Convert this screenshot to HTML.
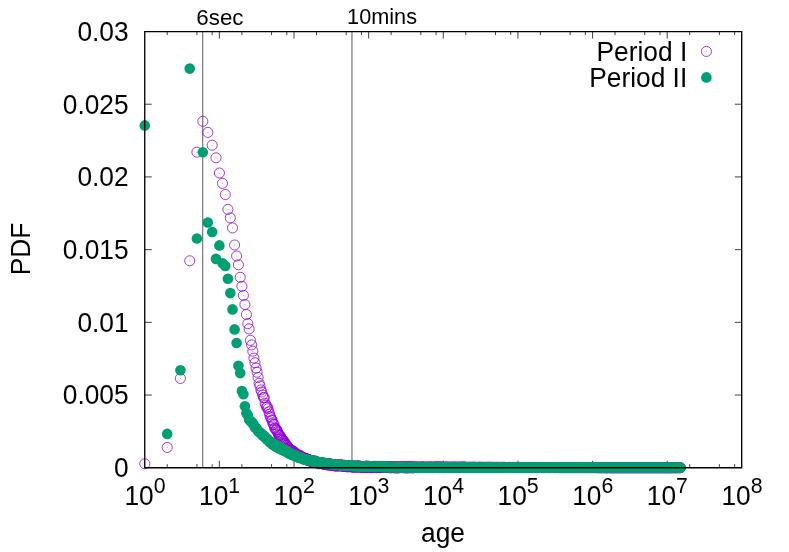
<!DOCTYPE html>
<html><head><meta charset="utf-8"><title>PDF of age</title>
<style>
html,body{margin:0;padding:0;background:#fff;}
body{width:789px;height:552px;overflow:hidden;}
svg{display:block;will-change:transform;}
text{font-family:"Liberation Sans",sans-serif;fill:#000;}
</style></head><body>
<svg width="789" height="552" viewBox="0 0 789 552">
<rect x="0" y="0" width="789" height="552" fill="#ffffff"/>
<path d="M167.22 467.75V464.15M167.22 31.50V35.10M196.92 467.75V464.15M196.92 31.50V35.10M212.15 467.75V464.15M212.15 31.50V35.10M219.39 467.75V460.75M219.39 31.50V38.50M241.86 467.75V464.15M241.86 31.50V35.10M271.56 467.75V464.15M271.56 31.50V35.10M286.79 467.75V464.15M286.79 31.50V35.10M294.02 467.75V460.75M294.02 31.50V38.50M316.49 467.75V464.15M316.49 31.50V35.10M346.19 467.75V464.15M346.19 31.50V35.10M361.43 467.75V464.15M361.43 31.50V35.10M368.66 467.75V460.75M368.66 31.50V38.50M391.13 467.75V464.15M391.13 31.50V35.10M420.83 467.75V464.15M420.83 31.50V35.10M436.07 467.75V464.15M436.07 31.50V35.10M443.30 467.75V460.75M443.30 31.50V38.50M465.77 467.75V464.15M465.77 31.50V35.10M495.47 467.75V464.15M495.47 31.50V35.10M510.70 467.75V464.15M510.70 31.50V35.10M517.94 467.75V460.75M517.94 31.50V38.50M540.41 467.75V464.15M540.41 31.50V35.10M570.11 467.75V464.15M570.11 31.50V35.10M585.34 467.75V464.15M585.34 31.50V35.10M592.58 467.75V460.75M592.58 31.50V38.50M615.04 467.75V464.15M615.04 31.50V35.10M644.74 467.75V464.15M644.74 31.50V35.10M659.98 467.75V464.15M659.98 31.50V35.10M667.21 467.75V460.75M667.21 31.50V38.50M689.68 467.75V464.15M689.68 31.50V35.10M719.38 467.75V464.15M719.38 31.50V35.10M734.62 467.75V464.15M734.62 31.50V35.10M144.75 395.04H151.75M741.85 395.04H734.85M144.75 322.33H151.75M741.85 322.33H734.85M144.75 249.62H151.75M741.85 249.62H734.85M144.75 176.92H151.75M741.85 176.92H734.85M144.75 104.21H151.75M741.85 104.21H734.85" stroke="#000" stroke-width="0.75" fill="none"/>
<line x1="202.68" y1="31.50" x2="202.68" y2="467.75" stroke="#808080" stroke-width="1.3"/>
<line x1="351.95" y1="31.50" x2="351.95" y2="467.75" stroke="#808080" stroke-width="1.3"/>
<g fill="none" stroke="#9400d3" stroke-width="0.78">
<circle cx="144.8" cy="463.8" r="5.05"/>
<circle cx="167.2" cy="447.5" r="5.05"/>
<circle cx="180.4" cy="378.4" r="5.05"/>
<circle cx="189.7" cy="260.8" r="5.05"/>
<circle cx="196.9" cy="152.2" r="5.05"/>
<circle cx="202.8" cy="121.3" r="5.05"/>
<circle cx="207.8" cy="132.4" r="5.05"/>
<circle cx="212.2" cy="145.2" r="5.05"/>
<circle cx="216.0" cy="157.8" r="5.05"/>
<circle cx="219.4" cy="173.0" r="5.05"/>
<circle cx="222.5" cy="183.3" r="5.05"/>
<circle cx="225.3" cy="194.5" r="5.05"/>
<circle cx="227.9" cy="209.4" r="5.05"/>
<circle cx="230.3" cy="217.9" r="5.05"/>
<circle cx="232.5" cy="227.9" r="5.05"/>
<circle cx="234.6" cy="245.0" r="5.05"/>
<circle cx="236.6" cy="256.0" r="5.05"/>
<circle cx="238.4" cy="264.8" r="5.05"/>
<circle cx="240.2" cy="277.3" r="5.05"/>
<circle cx="241.9" cy="286.3" r="5.05"/>
<circle cx="243.4" cy="295.4" r="5.05"/>
<circle cx="244.9" cy="304.5" r="5.05"/>
<circle cx="246.4" cy="314.5" r="5.05"/>
<circle cx="247.8" cy="323.6" r="5.05"/>
<circle cx="249.1" cy="328.9" r="5.05"/>
<circle cx="250.4" cy="340.3" r="5.05"/>
<circle cx="251.6" cy="344.9" r="5.05"/>
<circle cx="252.8" cy="351.2" r="5.05"/>
<circle cx="253.9" cy="358.1" r="5.05"/>
<circle cx="255.0" cy="362.8" r="5.05"/>
<circle cx="256.1" cy="368.0" r="5.05"/>
<circle cx="257.1" cy="372.2" r="5.05"/>
<circle cx="258.1" cy="377.5" r="5.05"/>
<circle cx="259.1" cy="383.3" r="5.05"/>
<circle cx="260.0" cy="385.9" r="5.05"/>
<circle cx="260.9" cy="389.9" r="5.05"/>
<circle cx="261.8" cy="392.0" r="5.05"/>
<circle cx="262.7" cy="395.0" r="5.05"/>
<circle cx="263.5" cy="397.4" r="5.05"/>
<circle cx="264.3" cy="397.7" r="5.05"/>
<circle cx="265.1" cy="403.2" r="5.05"/>
<circle cx="265.9" cy="405.2" r="5.05"/>
<circle cx="266.7" cy="407.4" r="5.05"/>
<circle cx="267.4" cy="406.9" r="5.05"/>
<circle cx="268.1" cy="408.8" r="5.05"/>
<circle cx="268.9" cy="411.8" r="5.05"/>
<circle cx="269.6" cy="414.1" r="5.05"/>
<circle cx="270.2" cy="416.6" r="5.05"/>
<circle cx="270.9" cy="417.8" r="5.05"/>
<circle cx="271.6" cy="420.0" r="5.05"/>
<circle cx="272.2" cy="420.4" r="5.05"/>
<circle cx="272.8" cy="422.8" r="5.05"/>
<circle cx="273.4" cy="424.3" r="5.05"/>
<circle cx="274.1" cy="424.5" r="5.05"/>
<circle cx="274.6" cy="428.1" r="5.05"/>
<circle cx="275.2" cy="428.2" r="5.05"/>
<circle cx="275.8" cy="429.9" r="5.05"/>
<circle cx="276.4" cy="429.3" r="5.05"/>
<circle cx="276.9" cy="430.3" r="5.05"/>
<circle cx="277.5" cy="431.7" r="5.05"/>
<circle cx="278.0" cy="432.9" r="5.05"/>
<circle cx="278.5" cy="434.4" r="5.05"/>
<circle cx="279.0" cy="435.0" r="5.05"/>
<circle cx="279.6" cy="435.3" r="5.05"/>
<circle cx="280.1" cy="435.7" r="5.05"/>
<circle cx="280.6" cy="436.9" r="5.05"/>
<circle cx="281.0" cy="438.9" r="5.05"/>
<circle cx="281.5" cy="438.2" r="5.05"/>
<circle cx="282.0" cy="439.6" r="5.05"/>
<circle cx="282.5" cy="440.4" r="5.05"/>
<circle cx="282.9" cy="439.8" r="5.05"/>
<circle cx="283.4" cy="441.5" r="5.05"/>
<circle cx="283.8" cy="443.0" r="5.05"/>
<circle cx="284.3" cy="441.5" r="5.05"/>
<circle cx="284.7" cy="443.2" r="5.05"/>
<circle cx="285.1" cy="443.9" r="5.05"/>
<circle cx="285.6" cy="444.0" r="5.05"/>
<circle cx="286.0" cy="445.4" r="5.05"/>
<circle cx="286.4" cy="445.6" r="5.05"/>
<circle cx="286.8" cy="445.2" r="5.05"/>
<circle cx="287.2" cy="447.1" r="5.05"/>
<circle cx="287.6" cy="447.5" r="5.05"/>
<circle cx="288.0" cy="448.1" r="5.05"/>
<circle cx="288.4" cy="448.8" r="5.05"/>
<circle cx="288.8" cy="448.6" r="5.05"/>
<circle cx="289.1" cy="448.9" r="5.05"/>
<circle cx="289.5" cy="448.5" r="5.05"/>
<circle cx="289.9" cy="449.9" r="5.05"/>
<circle cx="290.2" cy="449.6" r="5.05"/>
<circle cx="290.6" cy="450.1" r="5.05"/>
<circle cx="291.0" cy="449.9" r="5.05"/>
<circle cx="291.3" cy="450.4" r="5.05"/>
<circle cx="291.7" cy="450.8" r="5.05"/>
<circle cx="292.0" cy="452.0" r="5.05"/>
<circle cx="292.4" cy="450.6" r="5.05"/>
<circle cx="292.7" cy="451.2" r="5.05"/>
<circle cx="293.0" cy="452.2" r="5.05"/>
<circle cx="293.4" cy="453.0" r="5.05"/>
<circle cx="293.7" cy="452.8" r="5.05"/>
<circle cx="294.0" cy="451.9" r="5.05"/>
<circle cx="294.3" cy="451.8" r="5.05"/>
<circle cx="294.7" cy="453.4" r="5.05"/>
<circle cx="295.0" cy="453.1" r="5.05"/>
<circle cx="295.3" cy="453.1" r="5.05"/>
<circle cx="295.6" cy="454.2" r="5.05"/>
<circle cx="295.9" cy="454.5" r="5.05"/>
<circle cx="296.2" cy="454.2" r="5.05"/>
<circle cx="296.5" cy="454.5" r="5.05"/>
<circle cx="296.8" cy="454.7" r="5.05"/>
<circle cx="297.1" cy="455.4" r="5.05"/>
<circle cx="297.4" cy="455.1" r="5.05"/>
<circle cx="297.7" cy="455.3" r="5.05"/>
<circle cx="298.0" cy="455.4" r="5.05"/>
<circle cx="298.3" cy="454.8" r="5.05"/>
<circle cx="298.6" cy="456.0" r="5.05"/>
<circle cx="298.8" cy="456.1" r="5.05"/>
<circle cx="299.1" cy="456.0" r="5.05"/>
<circle cx="299.4" cy="455.2" r="5.05"/>
<circle cx="299.7" cy="455.9" r="5.05"/>
<circle cx="299.9" cy="456.6" r="5.05"/>
<circle cx="300.2" cy="455.7" r="5.05"/>
<circle cx="300.5" cy="456.5" r="5.05"/>
<circle cx="300.7" cy="457.0" r="5.05"/>
<circle cx="301.0" cy="456.3" r="5.05"/>
<circle cx="301.3" cy="457.5" r="5.05"/>
<circle cx="301.5" cy="457.2" r="5.05"/>
<circle cx="301.8" cy="457.1" r="5.05"/>
<circle cx="302.0" cy="457.4" r="5.05"/>
<circle cx="302.3" cy="457.6" r="5.05"/>
<circle cx="302.5" cy="457.6" r="5.05"/>
<circle cx="302.8" cy="458.0" r="5.05"/>
<circle cx="303.0" cy="457.5" r="5.05"/>
<circle cx="303.3" cy="457.7" r="5.05"/>
<circle cx="303.5" cy="458.3" r="5.05"/>
<circle cx="303.8" cy="458.1" r="5.05"/>
<circle cx="304.0" cy="457.9" r="5.05"/>
<circle cx="304.2" cy="458.6" r="5.05"/>
<circle cx="304.5" cy="458.8" r="5.05"/>
<circle cx="304.7" cy="458.3" r="5.05"/>
<circle cx="304.9" cy="458.1" r="5.05"/>
<circle cx="305.2" cy="458.6" r="5.05"/>
<circle cx="305.4" cy="458.7" r="5.05"/>
<circle cx="305.6" cy="458.8" r="5.05"/>
<circle cx="305.8" cy="459.4" r="5.05"/>
<circle cx="306.1" cy="458.7" r="5.05"/>
<circle cx="306.3" cy="459.5" r="5.05"/>
<circle cx="306.5" cy="458.8" r="5.05"/>
<circle cx="306.7" cy="459.0" r="5.05"/>
<circle cx="307.0" cy="459.6" r="5.05"/>
<circle cx="307.2" cy="459.8" r="5.3"/>
<circle cx="307.4" cy="459.8" r="5.3"/>
<circle cx="307.6" cy="459.7" r="5.3"/>
<circle cx="307.8" cy="459.7" r="5.3"/>
<circle cx="308.0" cy="459.8" r="5.3"/>
<circle cx="308.2" cy="460.0" r="5.3"/>
<circle cx="308.4" cy="459.8" r="5.3"/>
<circle cx="308.6" cy="460.1" r="5.3"/>
<circle cx="308.9" cy="460.2" r="5.3"/>
<circle cx="309.1" cy="460.1" r="5.3"/>
<circle cx="309.3" cy="460.4" r="5.3"/>
<circle cx="309.5" cy="460.4" r="5.3"/>
<circle cx="310.0" cy="461.0" r="5.3"/>
<circle cx="310.5" cy="460.7" r="5.3"/>
<circle cx="311.0" cy="460.6" r="5.3"/>
<circle cx="311.5" cy="460.8" r="5.3"/>
<circle cx="312.0" cy="461.0" r="5.3"/>
<circle cx="312.5" cy="461.5" r="5.3"/>
<circle cx="313.0" cy="461.2" r="5.3"/>
<circle cx="313.5" cy="461.6" r="5.3"/>
<circle cx="314.0" cy="462.2" r="5.3"/>
<circle cx="314.5" cy="461.0" r="5.3"/>
<circle cx="315.0" cy="461.5" r="5.3"/>
<circle cx="315.5" cy="462.1" r="5.3"/>
<circle cx="316.0" cy="462.3" r="5.3"/>
<circle cx="316.5" cy="462.3" r="5.3"/>
<circle cx="317.0" cy="462.2" r="5.3"/>
<circle cx="317.5" cy="462.7" r="5.3"/>
<circle cx="318.0" cy="462.7" r="5.3"/>
<circle cx="318.5" cy="462.6" r="5.3"/>
<circle cx="319.0" cy="463.6" r="5.3"/>
<circle cx="319.5" cy="463.0" r="5.3"/>
<circle cx="320.0" cy="462.9" r="5.3"/>
<circle cx="320.5" cy="463.1" r="5.3"/>
<circle cx="321.0" cy="463.2" r="5.3"/>
<circle cx="321.5" cy="463.3" r="5.3"/>
<circle cx="322.0" cy="462.6" r="5.3"/>
<circle cx="322.5" cy="463.4" r="5.3"/>
<circle cx="323.0" cy="463.9" r="5.3"/>
<circle cx="323.5" cy="463.4" r="5.3"/>
<circle cx="324.0" cy="463.8" r="5.3"/>
<circle cx="324.5" cy="464.2" r="5.3"/>
<circle cx="325.0" cy="464.2" r="5.3"/>
<circle cx="325.5" cy="464.5" r="5.3"/>
<circle cx="326.0" cy="463.6" r="5.3"/>
<circle cx="326.5" cy="464.1" r="5.3"/>
<circle cx="327.0" cy="464.1" r="5.3"/>
<circle cx="327.5" cy="464.5" r="5.3"/>
<circle cx="328.0" cy="464.7" r="5.3"/>
<circle cx="328.5" cy="463.6" r="5.3"/>
<circle cx="329.0" cy="464.8" r="5.3"/>
<circle cx="329.5" cy="464.1" r="5.3"/>
<circle cx="330.0" cy="464.8" r="5.3"/>
<circle cx="330.5" cy="464.2" r="5.3"/>
<circle cx="331.0" cy="464.7" r="5.3"/>
<circle cx="331.5" cy="465.1" r="5.3"/>
<circle cx="332.0" cy="464.8" r="5.3"/>
<circle cx="332.5" cy="464.9" r="5.3"/>
<circle cx="333.0" cy="465.1" r="5.3"/>
<circle cx="333.5" cy="465.0" r="5.3"/>
<circle cx="334.0" cy="465.0" r="5.3"/>
<circle cx="334.5" cy="465.5" r="5.3"/>
<circle cx="335.0" cy="465.4" r="5.3"/>
<circle cx="335.5" cy="465.1" r="5.3"/>
<circle cx="336.0" cy="466.0" r="5.3"/>
<circle cx="336.5" cy="464.9" r="5.3"/>
<circle cx="337.0" cy="465.6" r="5.3"/>
<circle cx="337.5" cy="465.2" r="5.3"/>
<circle cx="338.0" cy="465.4" r="5.3"/>
<circle cx="338.5" cy="465.6" r="5.3"/>
<circle cx="339.0" cy="465.5" r="5.3"/>
<circle cx="339.5" cy="465.7" r="5.3"/>
<circle cx="340.0" cy="465.1" r="5.3"/>
<circle cx="340.5" cy="465.1" r="5.3"/>
<circle cx="341.0" cy="465.8" r="5.3"/>
<circle cx="341.5" cy="465.4" r="5.3"/>
<circle cx="342.0" cy="465.4" r="5.3"/>
<circle cx="342.5" cy="465.3" r="5.3"/>
<circle cx="343.0" cy="466.1" r="5.3"/>
<circle cx="343.5" cy="466.0" r="5.3"/>
<circle cx="344.0" cy="466.3" r="5.3"/>
<circle cx="344.5" cy="465.6" r="5.3"/>
<circle cx="345.0" cy="465.9" r="5.3"/>
<circle cx="345.5" cy="465.6" r="5.3"/>
<circle cx="346.0" cy="466.2" r="5.3"/>
<circle cx="346.5" cy="466.5" r="5.3"/>
<circle cx="347.0" cy="465.8" r="5.3"/>
<circle cx="347.5" cy="466.5" r="5.3"/>
<circle cx="348.0" cy="466.4" r="5.3"/>
<circle cx="348.5" cy="466.1" r="5.3"/>
<circle cx="349.0" cy="465.6" r="5.3"/>
<circle cx="349.5" cy="466.6" r="5.3"/>
<circle cx="350.0" cy="466.2" r="5.3"/>
<circle cx="350.5" cy="466.1" r="5.3"/>
<circle cx="351.0" cy="466.4" r="5.3"/>
<circle cx="351.5" cy="466.4" r="5.3"/>
<circle cx="352.0" cy="466.8" r="5.3"/>
<circle cx="352.5" cy="466.1" r="5.3"/>
<circle cx="353.0" cy="466.7" r="5.3"/>
<circle cx="353.5" cy="466.9" r="5.3"/>
<circle cx="354.0" cy="466.9" r="5.3"/>
<circle cx="354.5" cy="466.4" r="5.3"/>
<circle cx="355.0" cy="466.3" r="5.3"/>
<circle cx="355.5" cy="466.8" r="5.3"/>
<circle cx="356.0" cy="466.6" r="5.3"/>
<circle cx="356.5" cy="466.6" r="5.3"/>
<circle cx="357.0" cy="467.0" r="5.3"/>
<circle cx="357.5" cy="466.5" r="5.3"/>
<circle cx="358.0" cy="466.0" r="5.3"/>
<circle cx="358.5" cy="466.5" r="5.3"/>
<circle cx="359.0" cy="466.1" r="5.3"/>
<circle cx="359.5" cy="466.9" r="5.3"/>
<circle cx="360.0" cy="466.8" r="5.3"/>
<circle cx="360.5" cy="466.6" r="5.3"/>
<circle cx="361.0" cy="466.8" r="5.3"/>
<circle cx="361.5" cy="467.0" r="5.3"/>
<circle cx="362.0" cy="466.8" r="5.3"/>
<circle cx="362.5" cy="467.2" r="5.3"/>
<circle cx="363.0" cy="466.8" r="5.3"/>
<circle cx="363.5" cy="467.2" r="5.3"/>
<circle cx="364.0" cy="467.3" r="5.3"/>
<circle cx="364.5" cy="467.4" r="5.3"/>
<circle cx="365.0" cy="466.7" r="5.3"/>
<circle cx="365.5" cy="467.2" r="5.3"/>
<circle cx="366.0" cy="466.4" r="5.3"/>
<circle cx="366.5" cy="466.6" r="5.3"/>
<circle cx="367.0" cy="466.4" r="5.3"/>
<circle cx="367.5" cy="467.3" r="5.3"/>
<circle cx="368.0" cy="466.6" r="5.3"/>
<circle cx="368.5" cy="467.0" r="5.3"/>
<circle cx="369.0" cy="467.0" r="5.3"/>
<circle cx="369.5" cy="467.0" r="5.3"/>
<circle cx="370.0" cy="466.9" r="5.3"/>
<circle cx="370.5" cy="467.1" r="5.3"/>
<circle cx="371.0" cy="467.6" r="5.3"/>
<circle cx="371.5" cy="467.1" r="5.3"/>
<circle cx="372.0" cy="467.2" r="5.3"/>
<circle cx="372.5" cy="467.3" r="5.3"/>
<circle cx="373.0" cy="467.0" r="5.3"/>
<circle cx="373.5" cy="466.7" r="5.3"/>
<circle cx="374.0" cy="466.9" r="5.3"/>
<circle cx="374.5" cy="467.4" r="5.3"/>
<circle cx="375.0" cy="466.6" r="5.3"/>
<circle cx="375.5" cy="466.9" r="5.3"/>
<circle cx="376.0" cy="467.4" r="5.3"/>
<circle cx="376.5" cy="467.3" r="5.3"/>
<circle cx="377.0" cy="467.1" r="5.3"/>
<circle cx="377.5" cy="467.3" r="5.3"/>
<circle cx="378.0" cy="467.2" r="5.3"/>
<circle cx="378.5" cy="466.8" r="5.3"/>
<circle cx="379.0" cy="466.7" r="5.3"/>
<circle cx="379.5" cy="467.0" r="5.3"/>
<circle cx="380.0" cy="467.4" r="5.3"/>
<circle cx="380.5" cy="467.0" r="5.3"/>
<circle cx="381.0" cy="466.9" r="5.3"/>
<circle cx="381.5" cy="467.0" r="5.3"/>
<circle cx="382.0" cy="466.8" r="5.3"/>
<circle cx="382.5" cy="467.1" r="5.3"/>
<circle cx="383.0" cy="466.9" r="5.3"/>
<circle cx="383.5" cy="467.2" r="5.3"/>
<circle cx="384.0" cy="466.6" r="5.3"/>
<circle cx="384.5" cy="467.2" r="5.3"/>
<circle cx="385.0" cy="467.0" r="5.3"/>
<circle cx="385.5" cy="466.7" r="5.3"/>
<circle cx="386.0" cy="467.3" r="5.3"/>
<circle cx="386.5" cy="467.1" r="5.3"/>
<circle cx="387.0" cy="466.7" r="5.3"/>
<circle cx="387.5" cy="467.0" r="5.3"/>
<circle cx="388.0" cy="467.3" r="5.3"/>
<circle cx="388.5" cy="467.1" r="5.3"/>
<circle cx="389.0" cy="467.4" r="5.3"/>
<circle cx="389.5" cy="467.4" r="5.3"/>
<circle cx="390.0" cy="467.4" r="5.3"/>
<circle cx="390.5" cy="467.3" r="5.3"/>
<circle cx="391.0" cy="467.5" r="5.3"/>
<circle cx="391.5" cy="467.4" r="5.3"/>
<circle cx="392.0" cy="467.3" r="5.3"/>
<circle cx="392.5" cy="466.8" r="5.3"/>
<circle cx="393.0" cy="467.4" r="5.3"/>
<circle cx="393.5" cy="467.5" r="5.3"/>
<circle cx="394.0" cy="467.2" r="5.3"/>
<circle cx="394.5" cy="467.2" r="5.3"/>
<circle cx="395.0" cy="467.6" r="5.3"/>
<circle cx="395.5" cy="466.9" r="5.3"/>
<circle cx="396.0" cy="467.4" r="5.3"/>
<circle cx="396.5" cy="467.7" r="5.3"/>
<circle cx="397.0" cy="467.1" r="5.3"/>
<circle cx="397.5" cy="467.4" r="5.3"/>
<circle cx="398.0" cy="467.6" r="5.3"/>
<circle cx="398.5" cy="467.3" r="5.3"/>
<circle cx="399.0" cy="467.4" r="5.3"/>
<circle cx="399.5" cy="467.5" r="5.3"/>
<circle cx="400.0" cy="467.1" r="5.3"/>
<circle cx="400.5" cy="467.3" r="5.3"/>
<circle cx="401.0" cy="467.3" r="5.3"/>
<circle cx="401.5" cy="467.4" r="5.3"/>
<circle cx="402.0" cy="467.3" r="5.3"/>
<circle cx="402.5" cy="467.3" r="5.3"/>
<circle cx="403.0" cy="467.1" r="5.3"/>
<circle cx="403.5" cy="467.2" r="5.3"/>
<circle cx="404.0" cy="467.5" r="5.3"/>
<circle cx="404.5" cy="467.3" r="5.3"/>
<circle cx="405.0" cy="467.2" r="5.3"/>
<circle cx="405.5" cy="467.2" r="5.3"/>
<circle cx="406.0" cy="467.8" r="5.3"/>
<circle cx="406.5" cy="467.5" r="5.3"/>
<circle cx="407.0" cy="467.4" r="5.3"/>
<circle cx="407.5" cy="466.9" r="5.3"/>
<circle cx="408.0" cy="467.4" r="5.3"/>
<circle cx="408.5" cy="467.4" r="5.3"/>
<circle cx="409.0" cy="467.6" r="5.3"/>
<circle cx="409.5" cy="467.4" r="5.3"/>
<circle cx="410.0" cy="467.3" r="5.3"/>
<circle cx="410.5" cy="467.4" r="5.3"/>
<circle cx="411.0" cy="467.0" r="5.3"/>
<circle cx="411.5" cy="467.5" r="5.3"/>
<circle cx="412.0" cy="467.4" r="5.3"/>
<circle cx="412.5" cy="467.2" r="5.3"/>
<circle cx="413.0" cy="467.5" r="5.3"/>
<circle cx="413.5" cy="467.6" r="5.3"/>
<circle cx="414.0" cy="467.1" r="5.15"/>
<circle cx="414.5" cy="467.2" r="5.15"/>
<circle cx="415.0" cy="467.4" r="5.15"/>
<circle cx="415.5" cy="467.3" r="5.15"/>
<circle cx="416.0" cy="467.3" r="5.15"/>
<circle cx="416.5" cy="467.2" r="5.15"/>
<circle cx="417.0" cy="467.6" r="5.15"/>
<circle cx="417.5" cy="467.5" r="5.15"/>
<circle cx="418.0" cy="467.1" r="5.15"/>
<circle cx="418.5" cy="467.1" r="5.15"/>
<circle cx="419.0" cy="467.5" r="5.15"/>
<circle cx="419.5" cy="467.4" r="5.15"/>
<circle cx="420.0" cy="467.6" r="5.15"/>
<circle cx="420.5" cy="467.4" r="5.15"/>
<circle cx="421.0" cy="467.2" r="5.15"/>
<circle cx="421.5" cy="467.3" r="5.15"/>
<circle cx="422.0" cy="467.0" r="5.15"/>
<circle cx="422.5" cy="467.2" r="5.15"/>
<circle cx="423.0" cy="467.3" r="5.15"/>
<circle cx="423.5" cy="467.4" r="5.15"/>
<circle cx="424.0" cy="467.2" r="5.15"/>
<circle cx="424.5" cy="467.3" r="5.15"/>
<circle cx="425.0" cy="467.4" r="5.15"/>
<circle cx="425.5" cy="467.4" r="5.15"/>
<circle cx="426.0" cy="467.4" r="5.15"/>
<circle cx="426.5" cy="467.3" r="5.15"/>
<circle cx="427.0" cy="467.3" r="5.15"/>
<circle cx="427.5" cy="467.4" r="5.15"/>
<circle cx="428.0" cy="467.3" r="5.15"/>
<circle cx="428.5" cy="467.2" r="5.15"/>
<circle cx="429.0" cy="467.2" r="5.15"/>
<circle cx="429.5" cy="467.3" r="5.15"/>
<circle cx="430.0" cy="467.3" r="5.15"/>
<circle cx="430.5" cy="467.3" r="5.15"/>
<circle cx="431.0" cy="467.3" r="5.15"/>
<circle cx="431.5" cy="467.3" r="5.15"/>
<circle cx="432.0" cy="467.3" r="5.15"/>
<circle cx="432.5" cy="467.2" r="5.15"/>
<circle cx="433.0" cy="467.4" r="5.15"/>
<circle cx="433.5" cy="467.4" r="5.15"/>
<circle cx="434.0" cy="467.4" r="5.15"/>
<circle cx="434.5" cy="467.3" r="5.15"/>
<circle cx="435.0" cy="467.4" r="5.15"/>
<circle cx="435.5" cy="467.2" r="5.15"/>
<circle cx="436.0" cy="467.1" r="5.15"/>
<circle cx="436.5" cy="467.3" r="5.15"/>
<circle cx="437.0" cy="467.2" r="5.15"/>
<circle cx="437.5" cy="467.4" r="5.15"/>
<circle cx="438.0" cy="467.2" r="5.15"/>
<circle cx="438.5" cy="467.0" r="5.15"/>
<circle cx="439.0" cy="467.2" r="5.15"/>
<circle cx="439.5" cy="467.5" r="5.15"/>
<circle cx="440.0" cy="467.3" r="5.15"/>
<circle cx="440.5" cy="467.2" r="5.15"/>
<circle cx="441.0" cy="467.2" r="5.15"/>
<circle cx="441.5" cy="467.4" r="5.15"/>
<circle cx="442.0" cy="467.4" r="5.15"/>
<circle cx="442.5" cy="467.3" r="5.15"/>
<circle cx="443.0" cy="467.5" r="5.15"/>
<circle cx="443.5" cy="467.4" r="5.15"/>
<circle cx="444.0" cy="467.3" r="5.15"/>
<circle cx="444.5" cy="467.4" r="5.15"/>
<circle cx="445.0" cy="467.5" r="5.15"/>
<circle cx="445.5" cy="467.4" r="5.15"/>
<circle cx="446.0" cy="467.4" r="5.15"/>
<circle cx="446.5" cy="467.2" r="5.15"/>
<circle cx="447.0" cy="467.3" r="5.15"/>
<circle cx="447.5" cy="467.4" r="5.15"/>
<circle cx="448.0" cy="467.3" r="5.15"/>
<circle cx="448.5" cy="467.4" r="5.15"/>
<circle cx="449.0" cy="467.4" r="5.15"/>
<circle cx="449.5" cy="467.4" r="5.15"/>
<circle cx="450.0" cy="467.3" r="5.15"/>
<circle cx="450.5" cy="467.5" r="5.15"/>
<circle cx="451.0" cy="467.4" r="5.15"/>
<circle cx="451.5" cy="467.3" r="5.15"/>
<circle cx="452.0" cy="467.3" r="5.15"/>
<circle cx="452.5" cy="467.5" r="5.15"/>
<circle cx="453.0" cy="467.3" r="5.15"/>
<circle cx="453.5" cy="467.4" r="5.15"/>
<circle cx="454.0" cy="467.4" r="5.15"/>
<circle cx="454.5" cy="467.3" r="5.15"/>
<circle cx="455.0" cy="467.2" r="5.15"/>
<circle cx="455.5" cy="467.4" r="5.15"/>
<circle cx="456.0" cy="467.4" r="5.15"/>
<circle cx="456.5" cy="467.4" r="5.15"/>
<circle cx="457.0" cy="467.4" r="5.15"/>
<circle cx="457.5" cy="467.3" r="5.15"/>
<circle cx="458.0" cy="467.4" r="5.15"/>
<circle cx="458.5" cy="467.4" r="5.15"/>
<circle cx="459.0" cy="467.4" r="5.15"/>
<circle cx="459.5" cy="467.4" r="5.15"/>
<circle cx="460.0" cy="467.3" r="5.15"/>
<circle cx="460.5" cy="467.4" r="5.15"/>
<circle cx="461.0" cy="467.3" r="5.15"/>
<circle cx="461.5" cy="467.3" r="5.15"/>
<circle cx="462.0" cy="467.4" r="5.15"/>
<circle cx="462.5" cy="467.3" r="5.15"/>
<circle cx="463.0" cy="467.3" r="5.15"/>
<circle cx="463.5" cy="467.2" r="5.15"/>
<circle cx="464.0" cy="467.3" r="5.15"/>
<circle cx="464.5" cy="467.4" r="5.15"/>
<circle cx="465.0" cy="467.4" r="5.15"/>
<circle cx="465.5" cy="467.4" r="5.15"/>
<circle cx="466.0" cy="467.3" r="5.05"/>
<circle cx="466.5" cy="467.3" r="5.05"/>
<circle cx="467.0" cy="467.5" r="5.05"/>
<circle cx="467.5" cy="467.4" r="5.05"/>
<circle cx="468.0" cy="467.4" r="5.05"/>
<circle cx="468.5" cy="467.3" r="5.05"/>
<circle cx="469.0" cy="467.4" r="5.05"/>
<circle cx="469.5" cy="467.3" r="5.05"/>
<circle cx="470.0" cy="467.4" r="5.05"/>
<circle cx="470.5" cy="467.4" r="5.05"/>
<circle cx="471.0" cy="467.3" r="5.05"/>
<circle cx="471.5" cy="467.4" r="5.05"/>
<circle cx="472.0" cy="467.4" r="5.05"/>
<circle cx="472.5" cy="467.3" r="5.05"/>
<circle cx="473.0" cy="467.3" r="5.05"/>
<circle cx="473.5" cy="467.3" r="5.05"/>
<circle cx="474.0" cy="467.3" r="5.05"/>
<circle cx="474.5" cy="467.3" r="5.05"/>
<circle cx="475.0" cy="467.4" r="5.05"/>
<circle cx="475.5" cy="467.4" r="5.05"/>
<circle cx="476.0" cy="467.4" r="5.05"/>
<circle cx="476.5" cy="467.4" r="5.05"/>
<circle cx="477.0" cy="467.5" r="5.05"/>
<circle cx="477.5" cy="467.5" r="5.05"/>
<circle cx="478.0" cy="467.3" r="5.05"/>
<circle cx="478.5" cy="467.4" r="5.05"/>
<circle cx="479.0" cy="467.3" r="5.05"/>
<circle cx="479.5" cy="467.3" r="5.05"/>
<circle cx="480.0" cy="467.4" r="5.05"/>
<circle cx="480.5" cy="467.4" r="5.05"/>
<circle cx="481.0" cy="467.4" r="5.05"/>
<circle cx="481.5" cy="467.3" r="5.05"/>
<circle cx="482.0" cy="467.3" r="5.05"/>
<circle cx="482.5" cy="467.4" r="5.05"/>
<circle cx="483.0" cy="467.4" r="5.05"/>
<circle cx="483.5" cy="467.4" r="5.05"/>
<circle cx="484.0" cy="467.4" r="5.05"/>
<circle cx="484.5" cy="467.4" r="5.05"/>
<circle cx="485.0" cy="467.4" r="5.05"/>
<circle cx="485.5" cy="467.4" r="5.05"/>
<circle cx="486.0" cy="467.4" r="5.05"/>
<circle cx="486.5" cy="467.4" r="5.05"/>
<circle cx="487.0" cy="467.4" r="5.05"/>
<circle cx="487.5" cy="467.3" r="5.05"/>
<circle cx="488.0" cy="467.4" r="5.05"/>
<circle cx="488.5" cy="467.4" r="5.05"/>
<circle cx="489.0" cy="467.3" r="5.05"/>
<circle cx="489.5" cy="467.4" r="5.05"/>
<circle cx="490.0" cy="467.4" r="5.05"/>
<circle cx="490.5" cy="467.3" r="5.05"/>
<circle cx="491.0" cy="467.4" r="5.05"/>
<circle cx="491.5" cy="467.4" r="5.05"/>
<circle cx="492.0" cy="467.4" r="5.05"/>
<circle cx="492.5" cy="467.4" r="5.05"/>
<circle cx="493.0" cy="467.4" r="5.05"/>
<circle cx="493.5" cy="467.4" r="5.05"/>
<circle cx="494.0" cy="467.4" r="5.05"/>
<circle cx="494.5" cy="467.4" r="5.05"/>
<circle cx="495.0" cy="467.5" r="5.05"/>
<circle cx="495.5" cy="467.4" r="5.05"/>
<circle cx="496.0" cy="467.4" r="5.05"/>
<circle cx="496.5" cy="467.4" r="5.05"/>
<circle cx="497.0" cy="467.4" r="5.05"/>
<circle cx="497.5" cy="467.4" r="5.05"/>
<circle cx="498.0" cy="467.4" r="5.05"/>
<circle cx="498.5" cy="467.4" r="5.05"/>
<circle cx="499.0" cy="467.4" r="5.05"/>
<circle cx="499.5" cy="467.4" r="5.05"/>
<circle cx="500.0" cy="467.5" r="5.05"/>
<circle cx="500.5" cy="467.4" r="5.05"/>
<circle cx="501.0" cy="467.5" r="5.05"/>
<circle cx="501.5" cy="467.4" r="5.05"/>
<circle cx="502.0" cy="467.5" r="5.05"/>
<circle cx="502.5" cy="467.4" r="5.05"/>
<circle cx="503.0" cy="467.5" r="5.05"/>
<circle cx="503.5" cy="467.3" r="5.05"/>
<circle cx="504.0" cy="467.4" r="5.05"/>
<circle cx="504.5" cy="467.4" r="5.05"/>
<circle cx="505.0" cy="467.5" r="5.05"/>
<circle cx="505.5" cy="467.5" r="5.05"/>
<circle cx="506.0" cy="467.5" r="5.05"/>
<circle cx="506.5" cy="467.5" r="5.05"/>
<circle cx="507.0" cy="467.5" r="5.05"/>
<circle cx="507.5" cy="467.5" r="5.05"/>
<circle cx="508.0" cy="467.5" r="5.05"/>
<circle cx="508.5" cy="467.4" r="5.05"/>
<circle cx="509.0" cy="467.5" r="5.05"/>
<circle cx="509.5" cy="467.4" r="5.05"/>
<circle cx="510.0" cy="467.5" r="5.05"/>
<circle cx="510.5" cy="467.4" r="5.05"/>
<circle cx="511.0" cy="467.5" r="5.05"/>
<circle cx="511.5" cy="467.5" r="5.05"/>
<circle cx="512.0" cy="467.4" r="5.05"/>
<circle cx="512.5" cy="467.5" r="5.05"/>
<circle cx="513.0" cy="467.5" r="5.05"/>
<circle cx="513.5" cy="467.5" r="5.05"/>
<circle cx="514.0" cy="467.4" r="5.05"/>
<circle cx="514.5" cy="467.5" r="5.05"/>
<circle cx="515.0" cy="467.5" r="5.05"/>
<circle cx="515.5" cy="467.5" r="5.05"/>
<circle cx="516.0" cy="467.4" r="5.05"/>
<circle cx="516.5" cy="467.5" r="5.05"/>
<circle cx="517.0" cy="467.5" r="5.05"/>
<circle cx="517.5" cy="467.5" r="5.05"/>
<circle cx="518.0" cy="467.5" r="5.05"/>
<circle cx="518.5" cy="467.4" r="5.05"/>
<circle cx="519.0" cy="467.5" r="5.05"/>
<circle cx="519.5" cy="467.4" r="5.05"/>
<circle cx="520.0" cy="467.5" r="5.05"/>
<circle cx="520.5" cy="467.5" r="5.05"/>
<circle cx="521.0" cy="467.4" r="5.05"/>
<circle cx="521.5" cy="467.5" r="5.05"/>
<circle cx="522.0" cy="467.5" r="5.05"/>
<circle cx="522.5" cy="467.5" r="5.05"/>
<circle cx="523.0" cy="467.5" r="5.05"/>
<circle cx="523.5" cy="467.5" r="5.05"/>
<circle cx="524.0" cy="467.5" r="5.05"/>
<circle cx="524.5" cy="467.5" r="5.05"/>
<circle cx="525.0" cy="467.5" r="5.05"/>
<circle cx="525.5" cy="467.5" r="5.05"/>
<circle cx="526.0" cy="467.5" r="5.05"/>
<circle cx="526.5" cy="467.5" r="5.05"/>
<circle cx="527.0" cy="467.5" r="5.05"/>
<circle cx="527.5" cy="467.5" r="5.05"/>
<circle cx="528.0" cy="467.5" r="5.05"/>
<circle cx="528.5" cy="467.5" r="5.05"/>
<circle cx="529.0" cy="467.5" r="5.05"/>
<circle cx="529.5" cy="467.5" r="5.05"/>
<circle cx="530.0" cy="467.5" r="5.05"/>
<circle cx="530.5" cy="467.5" r="5.05"/>
<circle cx="531.0" cy="467.5" r="5.05"/>
<circle cx="531.5" cy="467.5" r="5.05"/>
<circle cx="532.0" cy="467.5" r="5.05"/>
<circle cx="532.5" cy="467.5" r="5.05"/>
<circle cx="533.0" cy="467.5" r="5.05"/>
<circle cx="533.5" cy="467.5" r="5.05"/>
<circle cx="534.0" cy="467.5" r="5.05"/>
<circle cx="534.5" cy="467.5" r="5.05"/>
<circle cx="535.0" cy="467.5" r="5.05"/>
<circle cx="535.5" cy="467.5" r="5.05"/>
<circle cx="536.0" cy="467.5" r="5.05"/>
<circle cx="536.5" cy="467.5" r="5.05"/>
<circle cx="537.0" cy="467.5" r="5.05"/>
<circle cx="537.5" cy="467.5" r="5.05"/>
<circle cx="538.0" cy="467.5" r="5.05"/>
<circle cx="538.5" cy="467.5" r="5.05"/>
<circle cx="539.0" cy="467.5" r="5.05"/>
<circle cx="539.5" cy="467.6" r="5.05"/>
<circle cx="540.0" cy="467.5" r="5.05"/>
<circle cx="540.5" cy="467.5" r="5.05"/>
<circle cx="541.0" cy="467.5" r="5.05"/>
<circle cx="541.5" cy="467.5" r="5.05"/>
<circle cx="542.0" cy="467.5" r="5.05"/>
<circle cx="542.5" cy="467.5" r="5.05"/>
<circle cx="543.0" cy="467.5" r="5.05"/>
<circle cx="543.5" cy="467.5" r="5.05"/>
<circle cx="544.0" cy="467.6" r="5.05"/>
<circle cx="544.5" cy="467.6" r="5.05"/>
<circle cx="545.0" cy="467.5" r="5.05"/>
<circle cx="545.5" cy="467.5" r="5.05"/>
<circle cx="546.0" cy="467.6" r="5.05"/>
<circle cx="546.5" cy="467.5" r="5.05"/>
<circle cx="547.0" cy="467.5" r="5.05"/>
<circle cx="547.5" cy="467.6" r="5.05"/>
<circle cx="548.0" cy="467.6" r="5.05"/>
<circle cx="548.5" cy="467.6" r="5.05"/>
<circle cx="549.0" cy="467.5" r="5.05"/>
<circle cx="549.5" cy="467.6" r="5.05"/>
<circle cx="550.0" cy="467.6" r="5.05"/>
<circle cx="550.5" cy="467.6" r="5.05"/>
<circle cx="551.0" cy="467.5" r="5.05"/>
<circle cx="551.5" cy="467.5" r="5.05"/>
<circle cx="552.0" cy="467.6" r="5.05"/>
<circle cx="552.5" cy="467.5" r="5.05"/>
<circle cx="553.0" cy="467.5" r="5.05"/>
<circle cx="553.5" cy="467.6" r="5.05"/>
<circle cx="554.0" cy="467.6" r="5.05"/>
<circle cx="554.5" cy="467.6" r="5.05"/>
<circle cx="555.0" cy="467.6" r="5.05"/>
<circle cx="555.5" cy="467.6" r="5.05"/>
<circle cx="556.0" cy="467.6" r="5.05"/>
<circle cx="556.5" cy="467.6" r="5.05"/>
<circle cx="557.0" cy="467.5" r="5.05"/>
<circle cx="557.5" cy="467.6" r="5.05"/>
<circle cx="558.0" cy="467.6" r="5.05"/>
<circle cx="558.5" cy="467.6" r="5.05"/>
<circle cx="559.0" cy="467.6" r="5.05"/>
<circle cx="559.5" cy="467.6" r="5.05"/>
<circle cx="560.0" cy="467.6" r="5.05"/>
<circle cx="560.5" cy="467.6" r="5.05"/>
<circle cx="561.0" cy="467.6" r="5.05"/>
<circle cx="561.5" cy="467.6" r="5.05"/>
<circle cx="562.0" cy="467.6" r="5.05"/>
<circle cx="562.5" cy="467.6" r="5.05"/>
<circle cx="563.0" cy="467.6" r="5.05"/>
<circle cx="563.5" cy="467.6" r="5.05"/>
<circle cx="564.0" cy="467.6" r="5.05"/>
<circle cx="564.5" cy="467.6" r="5.05"/>
<circle cx="565.0" cy="467.6" r="5.05"/>
<circle cx="565.5" cy="467.6" r="5.05"/>
<circle cx="566.0" cy="467.6" r="5.05"/>
<circle cx="566.5" cy="467.6" r="5.05"/>
<circle cx="567.0" cy="467.6" r="5.05"/>
<circle cx="567.5" cy="467.6" r="5.05"/>
<circle cx="568.0" cy="467.6" r="5.05"/>
<circle cx="568.5" cy="467.6" r="5.05"/>
<circle cx="569.0" cy="467.6" r="5.05"/>
<circle cx="569.5" cy="467.6" r="5.05"/>
<circle cx="570.0" cy="467.6" r="5.05"/>
<circle cx="570.5" cy="467.6" r="5.05"/>
<circle cx="571.0" cy="467.6" r="5.05"/>
<circle cx="571.5" cy="467.6" r="5.05"/>
<circle cx="572.0" cy="467.6" r="5.05"/>
<circle cx="572.5" cy="467.6" r="5.05"/>
<circle cx="573.0" cy="467.6" r="5.05"/>
<circle cx="573.5" cy="467.6" r="5.05"/>
<circle cx="574.0" cy="467.6" r="5.05"/>
<circle cx="574.5" cy="467.6" r="5.05"/>
<circle cx="575.0" cy="467.6" r="5.05"/>
<circle cx="575.5" cy="467.6" r="5.05"/>
<circle cx="576.0" cy="467.6" r="5.05"/>
<circle cx="576.5" cy="467.6" r="5.05"/>
<circle cx="577.0" cy="467.6" r="5.05"/>
<circle cx="577.5" cy="467.6" r="5.05"/>
<circle cx="578.0" cy="467.6" r="5.05"/>
<circle cx="578.5" cy="467.6" r="5.05"/>
<circle cx="579.0" cy="467.6" r="5.05"/>
<circle cx="579.5" cy="467.6" r="5.05"/>
<circle cx="580.0" cy="467.6" r="5.05"/>
<circle cx="580.5" cy="467.6" r="5.05"/>
<circle cx="581.0" cy="467.6" r="5.05"/>
<circle cx="581.5" cy="467.6" r="5.05"/>
<circle cx="582.0" cy="467.6" r="5.05"/>
<circle cx="582.5" cy="467.6" r="5.05"/>
<circle cx="583.0" cy="467.6" r="5.05"/>
<circle cx="583.5" cy="467.6" r="5.05"/>
<circle cx="584.0" cy="467.6" r="5.05"/>
<circle cx="584.5" cy="467.6" r="5.05"/>
<circle cx="585.0" cy="467.6" r="5.05"/>
<circle cx="585.5" cy="467.6" r="5.05"/>
<circle cx="586.0" cy="467.6" r="5.05"/>
<circle cx="586.5" cy="467.6" r="5.05"/>
<circle cx="587.0" cy="467.6" r="5.05"/>
<circle cx="587.5" cy="467.6" r="5.05"/>
<circle cx="588.0" cy="467.6" r="5.05"/>
<circle cx="588.5" cy="467.6" r="5.05"/>
<circle cx="589.0" cy="467.6" r="5.05"/>
<circle cx="589.5" cy="467.6" r="5.05"/>
<circle cx="590.0" cy="467.6" r="5.05"/>
<circle cx="590.5" cy="467.6" r="5.05"/>
<circle cx="591.0" cy="467.6" r="5.05"/>
<circle cx="591.5" cy="467.6" r="5.05"/>
<circle cx="592.0" cy="467.6" r="5.05"/>
<circle cx="592.5" cy="467.6" r="5.05"/>
<circle cx="593.0" cy="467.6" r="5.05"/>
<circle cx="593.5" cy="467.6" r="5.05"/>
<circle cx="594.0" cy="467.6" r="5.05"/>
<circle cx="594.5" cy="467.6" r="5.05"/>
<circle cx="595.0" cy="467.6" r="5.05"/>
<circle cx="595.5" cy="467.6" r="5.05"/>
<circle cx="596.0" cy="467.6" r="5.05"/>
<circle cx="596.5" cy="467.6" r="5.05"/>
<circle cx="597.0" cy="467.7" r="5.05"/>
<circle cx="597.5" cy="467.6" r="5.05"/>
<circle cx="598.0" cy="467.6" r="5.05"/>
<circle cx="598.5" cy="467.6" r="5.05"/>
<circle cx="599.0" cy="467.7" r="5.05"/>
<circle cx="599.5" cy="467.7" r="5.05"/>
<circle cx="600.0" cy="467.6" r="5.05"/>
<circle cx="600.5" cy="467.7" r="5.05"/>
<circle cx="601.0" cy="467.6" r="5.05"/>
<circle cx="601.5" cy="467.7" r="5.05"/>
<circle cx="602.0" cy="467.7" r="5.05"/>
<circle cx="602.5" cy="467.7" r="5.05"/>
<circle cx="603.0" cy="467.6" r="5.05"/>
<circle cx="603.5" cy="467.6" r="5.05"/>
<circle cx="604.0" cy="467.7" r="5.05"/>
<circle cx="604.5" cy="467.7" r="5.05"/>
<circle cx="605.0" cy="467.7" r="5.05"/>
<circle cx="605.5" cy="467.7" r="5.05"/>
<circle cx="606.0" cy="467.7" r="5.05"/>
<circle cx="606.5" cy="467.7" r="5.05"/>
<circle cx="607.0" cy="467.7" r="5.05"/>
<circle cx="607.5" cy="467.7" r="5.05"/>
<circle cx="608.0" cy="467.7" r="5.05"/>
<circle cx="608.5" cy="467.7" r="5.05"/>
<circle cx="609.0" cy="467.7" r="5.05"/>
<circle cx="609.5" cy="467.6" r="5.05"/>
<circle cx="610.0" cy="467.7" r="5.05"/>
<circle cx="610.5" cy="467.7" r="5.05"/>
<circle cx="611.0" cy="467.7" r="5.05"/>
<circle cx="611.5" cy="467.7" r="5.05"/>
<circle cx="612.0" cy="467.7" r="5.05"/>
<circle cx="612.5" cy="467.7" r="5.05"/>
<circle cx="613.0" cy="467.7" r="5.05"/>
<circle cx="613.5" cy="467.7" r="5.05"/>
<circle cx="614.0" cy="467.7" r="5.05"/>
<circle cx="614.5" cy="467.7" r="5.05"/>
<circle cx="615.0" cy="467.7" r="5.05"/>
<circle cx="615.5" cy="467.7" r="5.05"/>
<circle cx="616.0" cy="467.7" r="5.05"/>
<circle cx="616.5" cy="467.7" r="5.05"/>
<circle cx="617.0" cy="467.7" r="5.05"/>
<circle cx="617.5" cy="467.7" r="5.05"/>
<circle cx="618.0" cy="467.7" r="5.05"/>
<circle cx="618.5" cy="467.7" r="5.05"/>
<circle cx="619.0" cy="467.7" r="5.05"/>
<circle cx="619.5" cy="467.7" r="5.05"/>
<circle cx="620.0" cy="467.7" r="5.05"/>
<circle cx="620.5" cy="467.7" r="5.05"/>
<circle cx="621.0" cy="467.7" r="5.05"/>
<circle cx="621.5" cy="467.7" r="5.05"/>
<circle cx="622.0" cy="467.7" r="5.05"/>
<circle cx="622.5" cy="467.7" r="5.05"/>
<circle cx="623.0" cy="467.7" r="5.05"/>
<circle cx="623.5" cy="467.7" r="5.05"/>
<circle cx="624.0" cy="467.7" r="5.05"/>
<circle cx="624.5" cy="467.7" r="5.05"/>
<circle cx="625.0" cy="467.7" r="5.05"/>
<circle cx="625.5" cy="467.7" r="5.05"/>
<circle cx="626.0" cy="467.7" r="5.05"/>
<circle cx="626.5" cy="467.7" r="5.05"/>
<circle cx="627.0" cy="467.7" r="5.05"/>
<circle cx="627.5" cy="467.7" r="5.05"/>
<circle cx="628.0" cy="467.7" r="5.05"/>
<circle cx="628.5" cy="467.7" r="5.05"/>
<circle cx="629.0" cy="467.7" r="5.05"/>
<circle cx="629.5" cy="467.7" r="5.05"/>
<circle cx="630.0" cy="467.7" r="5.05"/>
<circle cx="630.5" cy="467.7" r="5.05"/>
<circle cx="631.0" cy="467.7" r="5.05"/>
<circle cx="631.5" cy="467.7" r="5.05"/>
<circle cx="632.0" cy="467.7" r="5.05"/>
<circle cx="632.5" cy="467.7" r="5.05"/>
<circle cx="633.0" cy="467.7" r="5.05"/>
<circle cx="633.5" cy="467.7" r="5.05"/>
<circle cx="634.0" cy="467.7" r="5.05"/>
<circle cx="634.5" cy="467.7" r="5.05"/>
<circle cx="635.0" cy="467.7" r="5.05"/>
<circle cx="635.5" cy="467.7" r="5.05"/>
<circle cx="636.0" cy="467.7" r="5.05"/>
<circle cx="636.5" cy="467.7" r="5.05"/>
<circle cx="637.0" cy="467.7" r="5.05"/>
<circle cx="637.5" cy="467.7" r="5.05"/>
<circle cx="638.0" cy="467.7" r="5.05"/>
<circle cx="638.5" cy="467.7" r="5.05"/>
<circle cx="639.0" cy="467.7" r="5.05"/>
<circle cx="639.5" cy="467.7" r="5.05"/>
<circle cx="640.0" cy="467.7" r="5.05"/>
<circle cx="640.5" cy="467.7" r="5.05"/>
<circle cx="641.0" cy="467.7" r="5.05"/>
<circle cx="641.5" cy="467.7" r="5.05"/>
<circle cx="642.0" cy="467.7" r="5.05"/>
<circle cx="642.5" cy="467.7" r="5.05"/>
<circle cx="643.0" cy="467.7" r="5.05"/>
<circle cx="643.5" cy="467.7" r="5.05"/>
<circle cx="644.0" cy="467.7" r="5.05"/>
<circle cx="644.5" cy="467.7" r="5.05"/>
<circle cx="645.0" cy="467.7" r="5.05"/>
<circle cx="645.5" cy="467.7" r="5.05"/>
<circle cx="646.0" cy="467.7" r="5.05"/>
<circle cx="646.5" cy="467.7" r="5.05"/>
<circle cx="647.0" cy="467.7" r="5.05"/>
<circle cx="647.5" cy="467.7" r="5.05"/>
<circle cx="648.0" cy="467.7" r="5.05"/>
<circle cx="648.5" cy="467.7" r="5.05"/>
<circle cx="649.0" cy="467.7" r="5.05"/>
<circle cx="649.5" cy="467.7" r="5.05"/>
<circle cx="650.0" cy="467.7" r="5.05"/>
<circle cx="650.5" cy="467.7" r="5.05"/>
<circle cx="651.0" cy="467.7" r="5.05"/>
<circle cx="651.5" cy="467.7" r="5.05"/>
<circle cx="652.0" cy="467.7" r="5.05"/>
<circle cx="652.5" cy="467.7" r="5.05"/>
<circle cx="653.0" cy="467.7" r="5.05"/>
<circle cx="653.5" cy="467.7" r="5.05"/>
<circle cx="654.0" cy="467.7" r="5.05"/>
<circle cx="654.5" cy="467.7" r="5.05"/>
<circle cx="655.0" cy="467.7" r="5.05"/>
<circle cx="655.5" cy="467.7" r="5.05"/>
<circle cx="656.0" cy="467.7" r="5.05"/>
<circle cx="656.5" cy="467.7" r="5.05"/>
<circle cx="657.0" cy="467.7" r="5.05"/>
<circle cx="657.5" cy="467.7" r="5.05"/>
<circle cx="658.0" cy="467.7" r="5.05"/>
<circle cx="658.5" cy="467.7" r="5.05"/>
<circle cx="659.0" cy="467.7" r="5.05"/>
<circle cx="659.5" cy="467.7" r="5.05"/>
<circle cx="660.0" cy="467.7" r="5.05"/>
<circle cx="660.5" cy="467.7" r="5.05"/>
<circle cx="661.0" cy="467.7" r="5.05"/>
<circle cx="661.5" cy="467.7" r="5.05"/>
<circle cx="662.0" cy="467.7" r="5.05"/>
<circle cx="662.5" cy="467.7" r="5.05"/>
<circle cx="663.0" cy="467.7" r="5.05"/>
<circle cx="663.5" cy="467.7" r="5.05"/>
<circle cx="664.0" cy="467.7" r="5.05"/>
<circle cx="664.5" cy="467.7" r="5.05"/>
<circle cx="665.0" cy="467.7" r="5.05"/>
<circle cx="665.5" cy="467.7" r="5.05"/>
<circle cx="666.0" cy="467.7" r="5.05"/>
<circle cx="666.5" cy="467.7" r="5.05"/>
<circle cx="667.0" cy="467.7" r="5.05"/>
<circle cx="667.5" cy="467.7" r="5.05"/>
<circle cx="668.0" cy="467.7" r="5.05"/>
<circle cx="668.5" cy="467.7" r="5.05"/>
<circle cx="669.0" cy="467.7" r="5.05"/>
<circle cx="669.5" cy="467.7" r="5.05"/>
<circle cx="670.0" cy="467.7" r="5.05"/>
<circle cx="670.5" cy="467.7" r="5.05"/>
<circle cx="671.0" cy="467.7" r="5.05"/>
<circle cx="671.5" cy="467.7" r="5.05"/>
<circle cx="672.0" cy="467.7" r="5.05"/>
<circle cx="672.5" cy="467.7" r="5.05"/>
<circle cx="673.0" cy="467.7" r="5.05"/>
<circle cx="673.5" cy="467.7" r="5.05"/>
<circle cx="674.0" cy="467.7" r="5.05"/>
<circle cx="674.5" cy="467.7" r="5.05"/>
<circle cx="675.0" cy="467.7" r="5.05"/>
<circle cx="675.5" cy="467.7" r="5.05"/>
<circle cx="676.0" cy="467.7" r="5.05"/>
<circle cx="676.5" cy="467.7" r="5.05"/>
<circle cx="677.0" cy="467.7" r="5.05"/>
<circle cx="677.5" cy="467.7" r="5.05"/>
<circle cx="678.0" cy="467.7" r="5.05"/>
<circle cx="678.5" cy="467.7" r="5.05"/>
<circle cx="679.0" cy="467.7" r="5.05"/>
<circle cx="679.5" cy="467.7" r="5.05"/>
<circle cx="680.0" cy="467.7" r="5.05"/>
<circle cx="680.4" cy="467.7" r="5.05"/>
<circle cx="706.4" cy="51.4" r="5.05"/>
</g>
<g fill="#9400d3" fill-opacity="0.55">
<circle cx="144.8" cy="463.8" r="0.5"/>
<circle cx="167.2" cy="447.5" r="0.5"/>
<circle cx="180.4" cy="378.4" r="0.5"/>
<circle cx="189.7" cy="260.8" r="0.5"/>
<circle cx="196.9" cy="152.2" r="0.5"/>
<circle cx="202.8" cy="121.3" r="0.5"/>
<circle cx="207.8" cy="132.4" r="0.5"/>
<circle cx="212.2" cy="145.2" r="0.5"/>
<circle cx="216.0" cy="157.8" r="0.5"/>
<circle cx="219.4" cy="173.0" r="0.5"/>
<circle cx="222.5" cy="183.3" r="0.5"/>
<circle cx="225.3" cy="194.5" r="0.5"/>
<circle cx="227.9" cy="209.4" r="0.5"/>
<circle cx="230.3" cy="217.9" r="0.5"/>
<circle cx="232.5" cy="227.9" r="0.5"/>
<circle cx="234.6" cy="245.0" r="0.5"/>
<circle cx="236.6" cy="256.0" r="0.5"/>
<circle cx="238.4" cy="264.8" r="0.5"/>
<circle cx="240.2" cy="277.3" r="0.5"/>
<circle cx="241.9" cy="286.3" r="0.5"/>
<circle cx="243.4" cy="295.4" r="0.5"/>
<circle cx="244.9" cy="304.5" r="0.5"/>
<circle cx="246.4" cy="314.5" r="0.5"/>
<circle cx="247.8" cy="323.6" r="0.5"/>
<circle cx="249.1" cy="328.9" r="0.5"/>
<circle cx="250.4" cy="340.3" r="0.5"/>
<circle cx="251.6" cy="344.9" r="0.5"/>
<circle cx="252.8" cy="351.2" r="0.5"/>
<circle cx="253.9" cy="358.1" r="0.5"/>
<circle cx="255.0" cy="362.8" r="0.5"/>
<circle cx="706.4" cy="51.4" r="0.5"/>
</g>
<g fill="#009e73">
<circle cx="144.8" cy="125.4" r="5.3"/>
<circle cx="167.2" cy="433.9" r="5.3"/>
<circle cx="180.4" cy="370.3" r="5.3"/>
<circle cx="189.7" cy="68.6" r="5.3"/>
<circle cx="196.9" cy="238.5" r="5.3"/>
<circle cx="202.8" cy="152.2" r="5.3"/>
<circle cx="207.8" cy="222.5" r="5.3"/>
<circle cx="212.2" cy="232.0" r="5.3"/>
<circle cx="216.0" cy="258.9" r="5.3"/>
<circle cx="219.4" cy="245.4" r="5.3"/>
<circle cx="222.5" cy="263.2" r="5.3"/>
<circle cx="225.3" cy="266.0" r="5.3"/>
<circle cx="227.9" cy="278.7" r="5.3"/>
<circle cx="230.3" cy="293.1" r="5.3"/>
<circle cx="232.5" cy="309.4" r="5.3"/>
<circle cx="234.6" cy="329.4" r="5.3"/>
<circle cx="236.6" cy="343.0" r="5.3"/>
<circle cx="238.4" cy="365.7" r="5.3"/>
<circle cx="240.2" cy="373.1" r="5.3"/>
<circle cx="241.9" cy="391.1" r="5.3"/>
<circle cx="243.4" cy="394.3" r="5.3"/>
<circle cx="244.9" cy="406.3" r="5.3"/>
<circle cx="246.4" cy="413.3" r="5.3"/>
<circle cx="247.8" cy="415.2" r="5.3"/>
<circle cx="249.1" cy="419.6" r="5.3"/>
<circle cx="250.4" cy="420.9" r="5.3"/>
<circle cx="251.6" cy="422.0" r="5.3"/>
<circle cx="252.8" cy="423.4" r="5.3"/>
<circle cx="253.9" cy="425.1" r="5.3"/>
<circle cx="255.0" cy="427.4" r="5.3"/>
<circle cx="256.1" cy="428.0" r="5.3"/>
<circle cx="257.1" cy="429.3" r="5.3"/>
<circle cx="258.1" cy="431.3" r="5.3"/>
<circle cx="259.1" cy="431.8" r="5.3"/>
<circle cx="260.0" cy="432.6" r="5.3"/>
<circle cx="260.9" cy="433.3" r="5.3"/>
<circle cx="261.8" cy="434.3" r="5.3"/>
<circle cx="262.7" cy="435.5" r="5.3"/>
<circle cx="263.5" cy="436.1" r="5.3"/>
<circle cx="264.3" cy="436.1" r="5.3"/>
<circle cx="265.1" cy="437.6" r="5.3"/>
<circle cx="265.9" cy="438.2" r="5.3"/>
<circle cx="266.7" cy="438.3" r="5.3"/>
<circle cx="267.4" cy="439.9" r="5.3"/>
<circle cx="268.1" cy="440.0" r="5.3"/>
<circle cx="268.9" cy="440.6" r="5.3"/>
<circle cx="269.6" cy="441.7" r="5.3"/>
<circle cx="270.2" cy="442.5" r="5.3"/>
<circle cx="270.9" cy="442.0" r="5.3"/>
<circle cx="271.6" cy="443.0" r="5.3"/>
<circle cx="272.2" cy="442.8" r="5.3"/>
<circle cx="272.8" cy="444.8" r="5.3"/>
<circle cx="273.4" cy="443.8" r="5.3"/>
<circle cx="274.1" cy="445.1" r="5.3"/>
<circle cx="274.6" cy="444.5" r="5.3"/>
<circle cx="275.2" cy="445.6" r="5.3"/>
<circle cx="275.8" cy="446.7" r="5.3"/>
<circle cx="276.4" cy="444.7" r="5.3"/>
<circle cx="276.9" cy="446.1" r="5.3"/>
<circle cx="277.5" cy="446.8" r="5.3"/>
<circle cx="278.0" cy="446.9" r="5.3"/>
<circle cx="278.5" cy="446.9" r="5.3"/>
<circle cx="279.0" cy="448.5" r="5.3"/>
<circle cx="279.6" cy="447.9" r="5.3"/>
<circle cx="280.1" cy="447.4" r="5.3"/>
<circle cx="280.6" cy="448.8" r="5.3"/>
<circle cx="281.0" cy="447.9" r="5.3"/>
<circle cx="281.5" cy="449.4" r="5.3"/>
<circle cx="282.0" cy="448.9" r="5.3"/>
<circle cx="282.5" cy="449.5" r="5.3"/>
<circle cx="282.9" cy="450.2" r="5.3"/>
<circle cx="283.4" cy="449.9" r="5.3"/>
<circle cx="283.8" cy="449.5" r="5.3"/>
<circle cx="284.3" cy="449.7" r="5.3"/>
<circle cx="284.7" cy="451.0" r="5.3"/>
<circle cx="285.1" cy="451.0" r="5.3"/>
<circle cx="285.6" cy="450.7" r="5.3"/>
<circle cx="286.0" cy="451.5" r="5.3"/>
<circle cx="286.4" cy="451.6" r="5.3"/>
<circle cx="286.8" cy="451.9" r="5.3"/>
<circle cx="287.2" cy="451.1" r="5.3"/>
<circle cx="287.6" cy="452.0" r="5.3"/>
<circle cx="288.0" cy="452.7" r="5.3"/>
<circle cx="288.4" cy="452.8" r="5.3"/>
<circle cx="288.8" cy="453.1" r="5.3"/>
<circle cx="289.1" cy="452.2" r="5.3"/>
<circle cx="289.5" cy="453.2" r="5.3"/>
<circle cx="289.9" cy="453.5" r="5.3"/>
<circle cx="290.2" cy="454.3" r="5.3"/>
<circle cx="290.6" cy="453.4" r="5.3"/>
<circle cx="291.0" cy="453.8" r="5.3"/>
<circle cx="291.3" cy="454.1" r="5.3"/>
<circle cx="291.7" cy="454.5" r="5.3"/>
<circle cx="292.0" cy="454.2" r="5.3"/>
<circle cx="292.4" cy="454.9" r="5.3"/>
<circle cx="292.7" cy="454.5" r="5.3"/>
<circle cx="293.0" cy="454.9" r="5.3"/>
<circle cx="293.4" cy="454.8" r="5.3"/>
<circle cx="293.7" cy="455.2" r="5.3"/>
<circle cx="294.0" cy="455.1" r="5.3"/>
<circle cx="294.3" cy="455.0" r="5.3"/>
<circle cx="294.7" cy="455.8" r="5.3"/>
<circle cx="295.0" cy="455.8" r="5.3"/>
<circle cx="295.3" cy="455.7" r="5.3"/>
<circle cx="295.6" cy="456.0" r="5.3"/>
<circle cx="295.9" cy="456.3" r="5.3"/>
<circle cx="296.2" cy="456.0" r="5.3"/>
<circle cx="296.5" cy="456.3" r="5.3"/>
<circle cx="296.8" cy="456.6" r="5.3"/>
<circle cx="297.1" cy="456.7" r="5.3"/>
<circle cx="297.4" cy="456.6" r="5.3"/>
<circle cx="297.7" cy="456.3" r="5.3"/>
<circle cx="298.0" cy="457.2" r="5.3"/>
<circle cx="298.3" cy="457.1" r="5.3"/>
<circle cx="298.6" cy="457.2" r="5.3"/>
<circle cx="298.8" cy="457.2" r="5.3"/>
<circle cx="299.1" cy="457.5" r="5.3"/>
<circle cx="299.4" cy="457.4" r="5.3"/>
<circle cx="299.7" cy="457.4" r="5.3"/>
<circle cx="299.9" cy="457.5" r="5.3"/>
<circle cx="300.2" cy="457.7" r="5.3"/>
<circle cx="300.7" cy="457.9" r="5.3"/>
<circle cx="301.2" cy="457.9" r="5.3"/>
<circle cx="301.7" cy="458.5" r="5.3"/>
<circle cx="302.2" cy="458.2" r="5.3"/>
<circle cx="302.7" cy="458.8" r="5.3"/>
<circle cx="303.2" cy="458.7" r="5.3"/>
<circle cx="303.7" cy="459.1" r="5.3"/>
<circle cx="304.2" cy="459.4" r="5.3"/>
<circle cx="304.7" cy="459.4" r="5.3"/>
<circle cx="305.2" cy="459.3" r="5.3"/>
<circle cx="305.7" cy="459.6" r="5.3"/>
<circle cx="306.2" cy="459.8" r="5.3"/>
<circle cx="306.7" cy="459.5" r="5.3"/>
<circle cx="307.2" cy="459.8" r="5.3"/>
<circle cx="307.7" cy="460.1" r="5.3"/>
<circle cx="308.2" cy="460.1" r="5.3"/>
<circle cx="308.7" cy="460.3" r="5.3"/>
<circle cx="309.2" cy="460.5" r="5.3"/>
<circle cx="309.7" cy="460.6" r="5.3"/>
<circle cx="310.2" cy="460.7" r="5.3"/>
<circle cx="310.7" cy="460.7" r="5.3"/>
<circle cx="311.2" cy="460.7" r="5.3"/>
<circle cx="311.7" cy="460.8" r="5.3"/>
<circle cx="312.2" cy="460.9" r="5.3"/>
<circle cx="312.7" cy="460.9" r="5.3"/>
<circle cx="313.2" cy="461.1" r="5.3"/>
<circle cx="313.7" cy="460.9" r="5.3"/>
<circle cx="314.2" cy="461.2" r="5.3"/>
<circle cx="314.7" cy="461.3" r="5.3"/>
<circle cx="315.2" cy="461.3" r="5.3"/>
<circle cx="315.7" cy="461.5" r="5.3"/>
<circle cx="316.2" cy="461.7" r="5.3"/>
<circle cx="316.7" cy="461.7" r="5.3"/>
<circle cx="317.2" cy="462.1" r="5.3"/>
<circle cx="317.7" cy="461.7" r="5.3"/>
<circle cx="318.2" cy="462.0" r="5.3"/>
<circle cx="318.7" cy="462.0" r="5.3"/>
<circle cx="319.2" cy="462.4" r="5.3"/>
<circle cx="319.7" cy="462.6" r="5.3"/>
<circle cx="320.2" cy="462.2" r="5.3"/>
<circle cx="320.7" cy="462.6" r="5.3"/>
<circle cx="321.2" cy="462.7" r="5.3"/>
<circle cx="321.7" cy="462.7" r="5.3"/>
<circle cx="322.2" cy="462.9" r="5.3"/>
<circle cx="322.7" cy="462.7" r="5.3"/>
<circle cx="323.2" cy="463.1" r="5.3"/>
<circle cx="323.7" cy="463.1" r="5.3"/>
<circle cx="324.2" cy="463.2" r="5.3"/>
<circle cx="324.7" cy="463.2" r="5.3"/>
<circle cx="325.2" cy="463.4" r="5.3"/>
<circle cx="325.7" cy="463.4" r="5.3"/>
<circle cx="326.2" cy="463.5" r="5.3"/>
<circle cx="326.7" cy="463.5" r="5.3"/>
<circle cx="327.2" cy="463.5" r="5.3"/>
<circle cx="327.7" cy="463.7" r="5.3"/>
<circle cx="328.2" cy="463.8" r="5.3"/>
<circle cx="328.7" cy="463.9" r="5.3"/>
<circle cx="329.2" cy="463.8" r="5.3"/>
<circle cx="329.7" cy="464.0" r="5.3"/>
<circle cx="330.2" cy="464.1" r="5.3"/>
<circle cx="330.7" cy="464.1" r="5.3"/>
<circle cx="331.2" cy="464.2" r="5.3"/>
<circle cx="331.7" cy="464.3" r="5.3"/>
<circle cx="332.2" cy="464.2" r="5.3"/>
<circle cx="332.7" cy="464.2" r="5.3"/>
<circle cx="333.2" cy="464.4" r="5.3"/>
<circle cx="333.7" cy="464.5" r="5.3"/>
<circle cx="334.2" cy="464.5" r="5.3"/>
<circle cx="334.7" cy="464.6" r="5.3"/>
<circle cx="335.2" cy="464.5" r="5.3"/>
<circle cx="335.7" cy="464.6" r="5.3"/>
<circle cx="336.2" cy="464.7" r="5.3"/>
<circle cx="336.7" cy="464.7" r="5.3"/>
<circle cx="337.2" cy="464.7" r="5.3"/>
<circle cx="337.7" cy="464.8" r="5.3"/>
<circle cx="338.2" cy="465.0" r="5.3"/>
<circle cx="338.7" cy="465.0" r="5.3"/>
<circle cx="339.2" cy="464.9" r="5.3"/>
<circle cx="339.7" cy="465.0" r="5.3"/>
<circle cx="340.2" cy="465.1" r="5.3"/>
<circle cx="340.7" cy="465.0" r="5.3"/>
<circle cx="341.2" cy="465.2" r="5.3"/>
<circle cx="341.7" cy="465.2" r="5.3"/>
<circle cx="342.2" cy="465.2" r="5.3"/>
<circle cx="342.7" cy="465.3" r="5.3"/>
<circle cx="343.2" cy="465.3" r="5.3"/>
<circle cx="343.7" cy="465.3" r="5.3"/>
<circle cx="344.2" cy="465.4" r="5.3"/>
<circle cx="344.7" cy="465.4" r="5.3"/>
<circle cx="345.2" cy="465.5" r="5.3"/>
<circle cx="345.7" cy="465.4" r="5.3"/>
<circle cx="346.2" cy="465.4" r="5.3"/>
<circle cx="346.7" cy="465.5" r="5.3"/>
<circle cx="347.2" cy="465.5" r="5.3"/>
<circle cx="347.7" cy="465.6" r="5.3"/>
<circle cx="348.2" cy="465.6" r="5.3"/>
<circle cx="348.7" cy="465.7" r="5.3"/>
<circle cx="349.2" cy="465.7" r="5.3"/>
<circle cx="349.7" cy="465.7" r="5.3"/>
<circle cx="350.2" cy="465.7" r="5.3"/>
<circle cx="350.7" cy="465.8" r="5.3"/>
<circle cx="351.2" cy="465.7" r="5.3"/>
<circle cx="351.7" cy="465.8" r="5.3"/>
<circle cx="352.2" cy="465.9" r="5.3"/>
<circle cx="352.7" cy="465.9" r="5.3"/>
<circle cx="353.2" cy="465.9" r="5.3"/>
<circle cx="353.7" cy="465.9" r="5.3"/>
<circle cx="354.2" cy="466.0" r="5.3"/>
<circle cx="354.7" cy="466.0" r="5.3"/>
<circle cx="355.2" cy="466.0" r="5.3"/>
<circle cx="355.7" cy="466.1" r="5.3"/>
<circle cx="356.2" cy="466.1" r="5.3"/>
<circle cx="356.7" cy="466.1" r="5.3"/>
<circle cx="357.2" cy="466.1" r="5.3"/>
<circle cx="357.7" cy="466.1" r="5.3"/>
<circle cx="358.2" cy="466.2" r="5.3"/>
<circle cx="358.7" cy="466.2" r="5.3"/>
<circle cx="359.2" cy="466.3" r="5.3"/>
<circle cx="359.7" cy="466.3" r="5.3"/>
<circle cx="360.2" cy="466.3" r="5.3"/>
<circle cx="360.7" cy="466.3" r="5.3"/>
<circle cx="361.2" cy="466.3" r="5.3"/>
<circle cx="361.7" cy="466.3" r="5.3"/>
<circle cx="362.2" cy="466.4" r="5.3"/>
<circle cx="362.7" cy="466.3" r="5.3"/>
<circle cx="363.2" cy="466.4" r="5.3"/>
<circle cx="363.7" cy="466.4" r="5.3"/>
<circle cx="364.2" cy="466.5" r="5.3"/>
<circle cx="364.7" cy="466.4" r="5.3"/>
<circle cx="365.2" cy="466.4" r="5.3"/>
<circle cx="365.7" cy="466.5" r="5.3"/>
<circle cx="366.2" cy="466.5" r="5.3"/>
<circle cx="366.7" cy="466.5" r="5.3"/>
<circle cx="367.2" cy="466.6" r="5.3"/>
<circle cx="367.7" cy="466.5" r="5.3"/>
<circle cx="368.2" cy="466.6" r="5.3"/>
<circle cx="368.7" cy="466.6" r="5.3"/>
<circle cx="369.2" cy="466.6" r="5.3"/>
<circle cx="369.7" cy="466.6" r="5.3"/>
<circle cx="370.2" cy="466.6" r="5.3"/>
<circle cx="370.7" cy="466.6" r="5.3"/>
<circle cx="371.2" cy="466.7" r="5.3"/>
<circle cx="371.7" cy="466.7" r="5.3"/>
<circle cx="372.2" cy="466.7" r="5.3"/>
<circle cx="372.7" cy="466.7" r="5.3"/>
<circle cx="373.2" cy="466.7" r="5.3"/>
<circle cx="373.7" cy="466.7" r="5.3"/>
<circle cx="374.2" cy="466.7" r="5.3"/>
<circle cx="374.7" cy="466.7" r="5.3"/>
<circle cx="375.2" cy="466.7" r="5.3"/>
<circle cx="375.7" cy="466.7" r="5.3"/>
<circle cx="376.2" cy="466.7" r="5.3"/>
<circle cx="376.7" cy="466.7" r="5.3"/>
<circle cx="377.2" cy="466.8" r="5.3"/>
<circle cx="377.7" cy="466.8" r="5.3"/>
<circle cx="378.2" cy="466.8" r="5.3"/>
<circle cx="378.7" cy="466.8" r="5.3"/>
<circle cx="379.2" cy="466.8" r="5.3"/>
<circle cx="379.7" cy="466.8" r="5.3"/>
<circle cx="380.2" cy="466.8" r="5.3"/>
<circle cx="380.7" cy="466.8" r="5.3"/>
<circle cx="381.2" cy="466.8" r="5.3"/>
<circle cx="381.7" cy="466.8" r="5.3"/>
<circle cx="382.2" cy="466.9" r="5.3"/>
<circle cx="382.7" cy="466.9" r="5.3"/>
<circle cx="383.2" cy="466.9" r="5.3"/>
<circle cx="383.7" cy="466.9" r="5.3"/>
<circle cx="384.2" cy="466.9" r="5.3"/>
<circle cx="384.7" cy="466.9" r="5.3"/>
<circle cx="385.2" cy="466.9" r="5.3"/>
<circle cx="385.7" cy="466.9" r="5.3"/>
<circle cx="386.2" cy="466.9" r="5.3"/>
<circle cx="386.7" cy="466.9" r="5.3"/>
<circle cx="387.2" cy="466.9" r="5.3"/>
<circle cx="387.7" cy="466.9" r="5.3"/>
<circle cx="388.2" cy="466.9" r="5.3"/>
<circle cx="388.7" cy="467.0" r="5.3"/>
<circle cx="389.2" cy="467.0" r="5.3"/>
<circle cx="389.7" cy="467.0" r="5.3"/>
<circle cx="390.2" cy="467.0" r="5.3"/>
<circle cx="390.7" cy="467.0" r="5.3"/>
<circle cx="391.2" cy="467.0" r="5.3"/>
<circle cx="391.7" cy="467.0" r="5.3"/>
<circle cx="392.2" cy="467.0" r="5.3"/>
<circle cx="392.7" cy="467.0" r="5.3"/>
<circle cx="393.2" cy="467.0" r="5.3"/>
<circle cx="393.7" cy="467.0" r="5.3"/>
<circle cx="394.2" cy="467.0" r="5.3"/>
<circle cx="394.7" cy="467.0" r="5.3"/>
<circle cx="395.2" cy="467.1" r="5.3"/>
<circle cx="395.7" cy="467.1" r="5.3"/>
<circle cx="396.2" cy="467.1" r="5.3"/>
<circle cx="396.7" cy="467.1" r="5.3"/>
<circle cx="397.2" cy="467.1" r="5.3"/>
<circle cx="397.7" cy="467.1" r="5.3"/>
<circle cx="398.2" cy="467.1" r="5.3"/>
<circle cx="398.7" cy="467.1" r="5.3"/>
<circle cx="399.2" cy="467.1" r="5.3"/>
<circle cx="399.7" cy="467.1" r="5.3"/>
<circle cx="400.2" cy="467.1" r="5.3"/>
<circle cx="400.7" cy="467.1" r="5.3"/>
<circle cx="401.2" cy="467.1" r="5.3"/>
<circle cx="401.7" cy="467.1" r="5.3"/>
<circle cx="402.2" cy="467.1" r="5.3"/>
<circle cx="402.7" cy="467.2" r="5.3"/>
<circle cx="403.2" cy="467.2" r="5.3"/>
<circle cx="403.7" cy="467.2" r="5.3"/>
<circle cx="404.2" cy="467.2" r="5.3"/>
<circle cx="404.7" cy="467.2" r="5.3"/>
<circle cx="405.2" cy="467.2" r="5.3"/>
<circle cx="405.7" cy="467.2" r="5.3"/>
<circle cx="406.2" cy="467.2" r="5.3"/>
<circle cx="406.7" cy="467.2" r="5.3"/>
<circle cx="407.2" cy="467.2" r="5.3"/>
<circle cx="407.7" cy="467.2" r="5.3"/>
<circle cx="408.2" cy="467.2" r="5.3"/>
<circle cx="408.7" cy="467.2" r="5.3"/>
<circle cx="409.2" cy="467.2" r="5.3"/>
<circle cx="409.7" cy="467.2" r="5.3"/>
<circle cx="410.2" cy="467.2" r="5.3"/>
<circle cx="410.7" cy="467.2" r="5.3"/>
<circle cx="411.2" cy="467.2" r="5.3"/>
<circle cx="411.7" cy="467.2" r="5.3"/>
<circle cx="412.2" cy="467.2" r="5.3"/>
<circle cx="412.7" cy="467.2" r="5.3"/>
<circle cx="413.2" cy="467.2" r="5.3"/>
<circle cx="413.7" cy="467.2" r="5.3"/>
<circle cx="414.2" cy="467.2" r="5.3"/>
<circle cx="414.7" cy="467.2" r="5.3"/>
<circle cx="415.2" cy="467.2" r="5.3"/>
<circle cx="415.7" cy="467.2" r="5.3"/>
<circle cx="416.2" cy="467.2" r="5.3"/>
<circle cx="416.7" cy="467.2" r="5.3"/>
<circle cx="417.2" cy="467.2" r="5.3"/>
<circle cx="417.7" cy="467.2" r="5.3"/>
<circle cx="418.2" cy="467.2" r="5.3"/>
<circle cx="418.7" cy="467.2" r="5.3"/>
<circle cx="419.2" cy="467.2" r="5.3"/>
<circle cx="419.7" cy="467.2" r="5.3"/>
<circle cx="420.2" cy="467.2" r="5.3"/>
<circle cx="420.7" cy="467.2" r="5.3"/>
<circle cx="421.2" cy="467.2" r="5.3"/>
<circle cx="421.7" cy="467.2" r="5.3"/>
<circle cx="422.2" cy="467.2" r="5.3"/>
<circle cx="422.7" cy="467.2" r="5.3"/>
<circle cx="423.2" cy="467.2" r="5.3"/>
<circle cx="423.7" cy="467.2" r="5.3"/>
<circle cx="424.2" cy="467.2" r="5.3"/>
<circle cx="424.7" cy="467.3" r="5.3"/>
<circle cx="425.2" cy="467.3" r="5.3"/>
<circle cx="425.7" cy="467.3" r="5.3"/>
<circle cx="426.2" cy="467.3" r="5.3"/>
<circle cx="426.7" cy="467.3" r="5.3"/>
<circle cx="427.2" cy="467.3" r="5.3"/>
<circle cx="427.7" cy="467.3" r="5.3"/>
<circle cx="428.2" cy="467.3" r="5.3"/>
<circle cx="428.7" cy="467.3" r="5.3"/>
<circle cx="429.2" cy="467.3" r="5.3"/>
<circle cx="429.7" cy="467.3" r="5.3"/>
<circle cx="430.2" cy="467.3" r="5.3"/>
<circle cx="430.7" cy="467.3" r="5.3"/>
<circle cx="431.2" cy="467.3" r="5.3"/>
<circle cx="431.7" cy="467.3" r="5.3"/>
<circle cx="432.2" cy="467.3" r="5.3"/>
<circle cx="432.7" cy="467.3" r="5.3"/>
<circle cx="433.2" cy="467.3" r="5.3"/>
<circle cx="433.7" cy="467.3" r="5.3"/>
<circle cx="434.2" cy="467.3" r="5.3"/>
<circle cx="434.7" cy="467.3" r="5.3"/>
<circle cx="435.2" cy="467.3" r="5.3"/>
<circle cx="435.7" cy="467.3" r="5.3"/>
<circle cx="436.2" cy="467.3" r="5.3"/>
<circle cx="436.7" cy="467.3" r="5.3"/>
<circle cx="437.2" cy="467.3" r="5.3"/>
<circle cx="437.7" cy="467.3" r="5.3"/>
<circle cx="438.2" cy="467.3" r="5.3"/>
<circle cx="438.7" cy="467.3" r="5.3"/>
<circle cx="439.2" cy="467.3" r="5.3"/>
<circle cx="439.7" cy="467.3" r="5.3"/>
<circle cx="440.2" cy="467.3" r="5.3"/>
<circle cx="440.7" cy="467.3" r="5.3"/>
<circle cx="441.2" cy="467.3" r="5.3"/>
<circle cx="441.7" cy="467.3" r="5.3"/>
<circle cx="442.2" cy="467.3" r="5.3"/>
<circle cx="442.7" cy="467.3" r="5.3"/>
<circle cx="443.2" cy="467.3" r="5.3"/>
<circle cx="443.7" cy="467.3" r="5.3"/>
<circle cx="444.2" cy="467.3" r="5.3"/>
<circle cx="444.7" cy="467.3" r="5.3"/>
<circle cx="445.2" cy="467.3" r="5.3"/>
<circle cx="445.7" cy="467.3" r="5.3"/>
<circle cx="446.2" cy="467.3" r="5.3"/>
<circle cx="446.7" cy="467.3" r="5.3"/>
<circle cx="447.2" cy="467.3" r="5.3"/>
<circle cx="447.7" cy="467.3" r="5.3"/>
<circle cx="448.2" cy="467.3" r="5.3"/>
<circle cx="448.7" cy="467.3" r="5.3"/>
<circle cx="449.2" cy="467.3" r="5.3"/>
<circle cx="449.7" cy="467.3" r="5.3"/>
<circle cx="450.2" cy="467.3" r="5.3"/>
<circle cx="450.7" cy="467.3" r="5.3"/>
<circle cx="451.2" cy="467.3" r="5.3"/>
<circle cx="451.7" cy="467.3" r="5.3"/>
<circle cx="452.2" cy="467.3" r="5.3"/>
<circle cx="452.7" cy="467.3" r="5.3"/>
<circle cx="453.2" cy="467.3" r="5.3"/>
<circle cx="453.7" cy="467.3" r="5.3"/>
<circle cx="454.2" cy="467.3" r="5.3"/>
<circle cx="454.7" cy="467.3" r="5.3"/>
<circle cx="455.2" cy="467.3" r="5.3"/>
<circle cx="455.7" cy="467.3" r="5.3"/>
<circle cx="456.2" cy="467.3" r="5.3"/>
<circle cx="456.7" cy="467.3" r="5.3"/>
<circle cx="457.2" cy="467.3" r="5.3"/>
<circle cx="457.7" cy="467.3" r="5.3"/>
<circle cx="458.2" cy="467.3" r="5.3"/>
<circle cx="458.7" cy="467.3" r="5.3"/>
<circle cx="459.2" cy="467.4" r="5.3"/>
<circle cx="459.7" cy="467.4" r="5.3"/>
<circle cx="460.2" cy="467.4" r="5.3"/>
<circle cx="460.7" cy="467.4" r="5.3"/>
<circle cx="461.2" cy="467.4" r="5.3"/>
<circle cx="461.7" cy="467.4" r="5.3"/>
<circle cx="462.2" cy="467.4" r="5.3"/>
<circle cx="462.7" cy="467.4" r="5.3"/>
<circle cx="463.2" cy="467.4" r="5.3"/>
<circle cx="463.7" cy="467.4" r="5.3"/>
<circle cx="464.2" cy="467.4" r="5.3"/>
<circle cx="464.7" cy="467.4" r="5.3"/>
<circle cx="465.2" cy="467.4" r="5.3"/>
<circle cx="465.7" cy="467.4" r="5.3"/>
<circle cx="466.2" cy="467.4" r="5.3"/>
<circle cx="466.7" cy="467.4" r="5.3"/>
<circle cx="467.2" cy="467.4" r="5.3"/>
<circle cx="467.7" cy="467.4" r="5.3"/>
<circle cx="468.2" cy="467.4" r="5.3"/>
<circle cx="468.7" cy="467.4" r="5.3"/>
<circle cx="469.2" cy="467.4" r="5.3"/>
<circle cx="469.7" cy="467.4" r="5.3"/>
<circle cx="470.2" cy="467.4" r="5.3"/>
<circle cx="470.7" cy="467.4" r="5.3"/>
<circle cx="471.2" cy="467.4" r="5.3"/>
<circle cx="471.7" cy="467.4" r="5.3"/>
<circle cx="472.2" cy="467.4" r="5.3"/>
<circle cx="472.7" cy="467.4" r="5.3"/>
<circle cx="473.2" cy="467.4" r="5.3"/>
<circle cx="473.7" cy="467.4" r="5.3"/>
<circle cx="474.2" cy="467.4" r="5.3"/>
<circle cx="474.7" cy="467.4" r="5.3"/>
<circle cx="475.2" cy="467.4" r="5.3"/>
<circle cx="475.7" cy="467.4" r="5.3"/>
<circle cx="476.2" cy="467.4" r="5.3"/>
<circle cx="476.7" cy="467.4" r="5.3"/>
<circle cx="477.2" cy="467.4" r="5.3"/>
<circle cx="477.7" cy="467.4" r="5.3"/>
<circle cx="478.2" cy="467.4" r="5.3"/>
<circle cx="478.7" cy="467.4" r="5.3"/>
<circle cx="479.2" cy="467.4" r="5.3"/>
<circle cx="479.7" cy="467.4" r="5.3"/>
<circle cx="480.2" cy="467.4" r="5.3"/>
<circle cx="480.7" cy="467.4" r="5.3"/>
<circle cx="481.2" cy="467.4" r="5.3"/>
<circle cx="481.7" cy="467.4" r="5.3"/>
<circle cx="482.2" cy="467.4" r="5.3"/>
<circle cx="482.7" cy="467.4" r="5.3"/>
<circle cx="483.2" cy="467.4" r="5.3"/>
<circle cx="483.7" cy="467.4" r="5.3"/>
<circle cx="484.2" cy="467.4" r="5.3"/>
<circle cx="484.7" cy="467.4" r="5.3"/>
<circle cx="485.2" cy="467.4" r="5.3"/>
<circle cx="485.7" cy="467.4" r="5.3"/>
<circle cx="486.2" cy="467.4" r="5.3"/>
<circle cx="486.7" cy="467.4" r="5.3"/>
<circle cx="487.2" cy="467.4" r="5.3"/>
<circle cx="487.7" cy="467.4" r="5.3"/>
<circle cx="488.2" cy="467.4" r="5.3"/>
<circle cx="488.7" cy="467.4" r="5.3"/>
<circle cx="489.2" cy="467.4" r="5.3"/>
<circle cx="489.7" cy="467.4" r="5.3"/>
<circle cx="490.2" cy="467.4" r="5.3"/>
<circle cx="490.7" cy="467.4" r="5.3"/>
<circle cx="491.2" cy="467.4" r="5.3"/>
<circle cx="491.7" cy="467.4" r="5.3"/>
<circle cx="492.2" cy="467.4" r="5.3"/>
<circle cx="492.7" cy="467.4" r="5.3"/>
<circle cx="493.2" cy="467.4" r="5.3"/>
<circle cx="493.7" cy="467.4" r="5.3"/>
<circle cx="494.2" cy="467.4" r="5.3"/>
<circle cx="494.7" cy="467.4" r="5.3"/>
<circle cx="495.2" cy="467.4" r="5.3"/>
<circle cx="495.7" cy="467.4" r="5.3"/>
<circle cx="496.2" cy="467.4" r="5.3"/>
<circle cx="496.7" cy="467.4" r="5.3"/>
<circle cx="497.2" cy="467.4" r="5.3"/>
<circle cx="497.7" cy="467.4" r="5.3"/>
<circle cx="498.2" cy="467.4" r="5.3"/>
<circle cx="498.7" cy="467.4" r="5.3"/>
<circle cx="499.2" cy="467.4" r="5.3"/>
<circle cx="499.7" cy="467.4" r="5.3"/>
<circle cx="500.2" cy="467.4" r="5.3"/>
<circle cx="500.7" cy="467.4" r="5.3"/>
<circle cx="501.2" cy="467.4" r="5.3"/>
<circle cx="501.7" cy="467.4" r="5.3"/>
<circle cx="502.2" cy="467.4" r="5.3"/>
<circle cx="502.7" cy="467.4" r="5.3"/>
<circle cx="503.2" cy="467.4" r="5.3"/>
<circle cx="503.7" cy="467.4" r="5.3"/>
<circle cx="504.2" cy="467.4" r="5.3"/>
<circle cx="504.7" cy="467.4" r="5.3"/>
<circle cx="505.2" cy="467.4" r="5.3"/>
<circle cx="505.7" cy="467.4" r="5.3"/>
<circle cx="506.2" cy="467.4" r="5.3"/>
<circle cx="506.7" cy="467.4" r="5.3"/>
<circle cx="507.2" cy="467.4" r="5.3"/>
<circle cx="507.7" cy="467.4" r="5.3"/>
<circle cx="508.2" cy="467.4" r="5.3"/>
<circle cx="508.7" cy="467.4" r="5.3"/>
<circle cx="509.2" cy="467.4" r="5.3"/>
<circle cx="509.7" cy="467.4" r="5.3"/>
<circle cx="510.2" cy="467.4" r="5.3"/>
<circle cx="510.7" cy="467.4" r="5.3"/>
<circle cx="511.2" cy="467.4" r="5.3"/>
<circle cx="511.7" cy="467.4" r="5.3"/>
<circle cx="512.2" cy="467.4" r="5.3"/>
<circle cx="512.7" cy="467.5" r="5.3"/>
<circle cx="513.2" cy="467.5" r="5.3"/>
<circle cx="513.7" cy="467.5" r="5.3"/>
<circle cx="514.2" cy="467.5" r="5.3"/>
<circle cx="514.7" cy="467.5" r="5.3"/>
<circle cx="515.2" cy="467.5" r="5.3"/>
<circle cx="515.7" cy="467.5" r="5.3"/>
<circle cx="516.2" cy="467.5" r="5.3"/>
<circle cx="516.7" cy="467.5" r="5.3"/>
<circle cx="517.2" cy="467.5" r="5.3"/>
<circle cx="517.7" cy="467.5" r="5.3"/>
<circle cx="518.2" cy="467.5" r="5.3"/>
<circle cx="518.7" cy="467.5" r="5.3"/>
<circle cx="519.2" cy="467.5" r="5.3"/>
<circle cx="519.7" cy="467.5" r="5.3"/>
<circle cx="520.2" cy="467.5" r="5.3"/>
<circle cx="520.7" cy="467.5" r="5.3"/>
<circle cx="521.2" cy="467.5" r="5.3"/>
<circle cx="521.7" cy="467.5" r="5.3"/>
<circle cx="522.2" cy="467.5" r="5.3"/>
<circle cx="522.7" cy="467.5" r="5.3"/>
<circle cx="523.2" cy="467.5" r="5.3"/>
<circle cx="523.7" cy="467.5" r="5.3"/>
<circle cx="524.2" cy="467.5" r="5.3"/>
<circle cx="524.7" cy="467.5" r="5.3"/>
<circle cx="525.2" cy="467.5" r="5.3"/>
<circle cx="525.7" cy="467.5" r="5.3"/>
<circle cx="526.2" cy="467.5" r="5.3"/>
<circle cx="526.7" cy="467.5" r="5.3"/>
<circle cx="527.2" cy="467.5" r="5.3"/>
<circle cx="527.7" cy="467.5" r="5.3"/>
<circle cx="528.2" cy="467.5" r="5.3"/>
<circle cx="528.7" cy="467.5" r="5.3"/>
<circle cx="529.2" cy="467.5" r="5.3"/>
<circle cx="529.7" cy="467.5" r="5.3"/>
<circle cx="530.2" cy="467.5" r="5.3"/>
<circle cx="530.7" cy="467.5" r="5.3"/>
<circle cx="531.2" cy="467.5" r="5.3"/>
<circle cx="531.7" cy="467.5" r="5.3"/>
<circle cx="532.2" cy="467.5" r="5.3"/>
<circle cx="532.7" cy="467.5" r="5.3"/>
<circle cx="533.2" cy="467.5" r="5.3"/>
<circle cx="533.7" cy="467.5" r="5.3"/>
<circle cx="534.2" cy="467.5" r="5.3"/>
<circle cx="534.7" cy="467.5" r="5.3"/>
<circle cx="535.2" cy="467.5" r="5.3"/>
<circle cx="535.7" cy="467.5" r="5.3"/>
<circle cx="536.2" cy="467.5" r="5.3"/>
<circle cx="536.7" cy="467.5" r="5.3"/>
<circle cx="537.2" cy="467.5" r="5.3"/>
<circle cx="537.7" cy="467.5" r="5.3"/>
<circle cx="538.2" cy="467.5" r="5.3"/>
<circle cx="538.7" cy="467.5" r="5.3"/>
<circle cx="539.2" cy="467.5" r="5.3"/>
<circle cx="539.7" cy="467.5" r="5.3"/>
<circle cx="540.2" cy="467.5" r="5.3"/>
<circle cx="540.7" cy="467.5" r="5.3"/>
<circle cx="541.2" cy="467.5" r="5.3"/>
<circle cx="541.7" cy="467.5" r="5.3"/>
<circle cx="542.2" cy="467.5" r="5.3"/>
<circle cx="542.7" cy="467.5" r="5.3"/>
<circle cx="543.2" cy="467.5" r="5.3"/>
<circle cx="543.7" cy="467.5" r="5.3"/>
<circle cx="544.2" cy="467.5" r="5.3"/>
<circle cx="544.7" cy="467.5" r="5.3"/>
<circle cx="545.2" cy="467.5" r="5.3"/>
<circle cx="545.7" cy="467.5" r="5.3"/>
<circle cx="546.2" cy="467.5" r="5.3"/>
<circle cx="546.7" cy="467.5" r="5.3"/>
<circle cx="547.2" cy="467.5" r="5.3"/>
<circle cx="547.7" cy="467.5" r="5.3"/>
<circle cx="548.2" cy="467.5" r="5.3"/>
<circle cx="548.7" cy="467.6" r="5.3"/>
<circle cx="549.2" cy="467.6" r="5.3"/>
<circle cx="549.7" cy="467.6" r="5.3"/>
<circle cx="550.2" cy="467.6" r="5.3"/>
<circle cx="550.7" cy="467.6" r="5.3"/>
<circle cx="551.2" cy="467.6" r="5.3"/>
<circle cx="551.7" cy="467.6" r="5.3"/>
<circle cx="552.2" cy="467.6" r="5.3"/>
<circle cx="552.7" cy="467.6" r="5.3"/>
<circle cx="553.2" cy="467.6" r="5.3"/>
<circle cx="553.7" cy="467.6" r="5.3"/>
<circle cx="554.2" cy="467.6" r="5.3"/>
<circle cx="554.7" cy="467.6" r="5.3"/>
<circle cx="555.2" cy="467.6" r="5.3"/>
<circle cx="555.7" cy="467.6" r="5.3"/>
<circle cx="556.2" cy="467.6" r="5.3"/>
<circle cx="556.7" cy="467.6" r="5.3"/>
<circle cx="557.2" cy="467.6" r="5.3"/>
<circle cx="557.7" cy="467.6" r="5.3"/>
<circle cx="558.2" cy="467.6" r="5.3"/>
<circle cx="558.7" cy="467.6" r="5.3"/>
<circle cx="559.2" cy="467.6" r="5.3"/>
<circle cx="559.7" cy="467.6" r="5.3"/>
<circle cx="560.2" cy="467.6" r="5.3"/>
<circle cx="560.7" cy="467.6" r="5.3"/>
<circle cx="561.2" cy="467.6" r="5.3"/>
<circle cx="561.7" cy="467.6" r="5.3"/>
<circle cx="562.2" cy="467.6" r="5.3"/>
<circle cx="562.7" cy="467.6" r="5.3"/>
<circle cx="563.2" cy="467.6" r="5.3"/>
<circle cx="563.7" cy="467.6" r="5.3"/>
<circle cx="564.2" cy="467.6" r="5.3"/>
<circle cx="564.7" cy="467.6" r="5.3"/>
<circle cx="565.2" cy="467.6" r="5.3"/>
<circle cx="565.7" cy="467.6" r="5.3"/>
<circle cx="566.2" cy="467.6" r="5.3"/>
<circle cx="566.7" cy="467.6" r="5.3"/>
<circle cx="567.2" cy="467.6" r="5.3"/>
<circle cx="567.7" cy="467.6" r="5.3"/>
<circle cx="568.2" cy="467.6" r="5.3"/>
<circle cx="568.7" cy="467.6" r="5.3"/>
<circle cx="569.2" cy="467.6" r="5.3"/>
<circle cx="569.7" cy="467.6" r="5.3"/>
<circle cx="570.2" cy="467.6" r="5.3"/>
<circle cx="570.7" cy="467.6" r="5.3"/>
<circle cx="571.2" cy="467.6" r="5.3"/>
<circle cx="571.7" cy="467.6" r="5.3"/>
<circle cx="572.2" cy="467.6" r="5.3"/>
<circle cx="572.7" cy="467.6" r="5.3"/>
<circle cx="573.2" cy="467.6" r="5.3"/>
<circle cx="573.7" cy="467.6" r="5.3"/>
<circle cx="574.2" cy="467.6" r="5.3"/>
<circle cx="574.7" cy="467.6" r="5.3"/>
<circle cx="575.2" cy="467.6" r="5.3"/>
<circle cx="575.7" cy="467.6" r="5.3"/>
<circle cx="576.2" cy="467.6" r="5.3"/>
<circle cx="576.7" cy="467.6" r="5.3"/>
<circle cx="577.2" cy="467.6" r="5.3"/>
<circle cx="577.7" cy="467.6" r="5.3"/>
<circle cx="578.2" cy="467.6" r="5.3"/>
<circle cx="578.7" cy="467.6" r="5.3"/>
<circle cx="579.2" cy="467.6" r="5.3"/>
<circle cx="579.7" cy="467.6" r="5.3"/>
<circle cx="580.2" cy="467.6" r="5.3"/>
<circle cx="580.7" cy="467.6" r="5.3"/>
<circle cx="581.2" cy="467.6" r="5.3"/>
<circle cx="581.7" cy="467.6" r="5.3"/>
<circle cx="582.2" cy="467.6" r="5.3"/>
<circle cx="582.7" cy="467.6" r="5.3"/>
<circle cx="583.2" cy="467.6" r="5.3"/>
<circle cx="583.7" cy="467.6" r="5.3"/>
<circle cx="584.2" cy="467.6" r="5.3"/>
<circle cx="584.7" cy="467.6" r="5.3"/>
<circle cx="585.2" cy="467.6" r="5.3"/>
<circle cx="585.7" cy="467.6" r="5.3"/>
<circle cx="586.2" cy="467.6" r="5.3"/>
<circle cx="586.7" cy="467.6" r="5.3"/>
<circle cx="587.2" cy="467.6" r="5.3"/>
<circle cx="587.7" cy="467.6" r="5.3"/>
<circle cx="588.2" cy="467.6" r="5.3"/>
<circle cx="588.7" cy="467.6" r="5.3"/>
<circle cx="589.2" cy="467.6" r="5.3"/>
<circle cx="589.7" cy="467.6" r="5.3"/>
<circle cx="590.2" cy="467.6" r="5.3"/>
<circle cx="590.7" cy="467.6" r="5.3"/>
<circle cx="591.2" cy="467.6" r="5.3"/>
<circle cx="591.7" cy="467.6" r="5.3"/>
<circle cx="592.2" cy="467.6" r="5.3"/>
<circle cx="592.7" cy="467.6" r="5.3"/>
<circle cx="593.2" cy="467.6" r="5.3"/>
<circle cx="593.7" cy="467.6" r="5.3"/>
<circle cx="594.2" cy="467.6" r="5.3"/>
<circle cx="594.7" cy="467.6" r="5.3"/>
<circle cx="595.2" cy="467.6" r="5.3"/>
<circle cx="595.7" cy="467.6" r="5.3"/>
<circle cx="596.2" cy="467.6" r="5.3"/>
<circle cx="596.7" cy="467.6" r="5.3"/>
<circle cx="597.2" cy="467.6" r="5.3"/>
<circle cx="597.7" cy="467.6" r="5.3"/>
<circle cx="598.2" cy="467.6" r="5.3"/>
<circle cx="598.7" cy="467.6" r="5.3"/>
<circle cx="599.2" cy="467.7" r="5.3"/>
<circle cx="599.7" cy="467.7" r="5.3"/>
<circle cx="600.2" cy="467.7" r="5.3"/>
<circle cx="600.7" cy="467.7" r="5.3"/>
<circle cx="601.2" cy="467.7" r="5.3"/>
<circle cx="601.7" cy="467.7" r="5.3"/>
<circle cx="602.2" cy="467.7" r="5.3"/>
<circle cx="602.7" cy="467.7" r="5.3"/>
<circle cx="603.2" cy="467.7" r="5.3"/>
<circle cx="603.7" cy="467.7" r="5.3"/>
<circle cx="604.2" cy="467.7" r="5.3"/>
<circle cx="604.7" cy="467.7" r="5.3"/>
<circle cx="605.2" cy="467.7" r="5.3"/>
<circle cx="605.7" cy="467.7" r="5.3"/>
<circle cx="606.2" cy="467.7" r="5.3"/>
<circle cx="606.7" cy="467.7" r="5.3"/>
<circle cx="607.2" cy="467.7" r="5.3"/>
<circle cx="607.7" cy="467.7" r="5.3"/>
<circle cx="608.2" cy="467.7" r="5.3"/>
<circle cx="608.7" cy="467.7" r="5.3"/>
<circle cx="609.2" cy="467.7" r="5.3"/>
<circle cx="609.7" cy="467.7" r="5.3"/>
<circle cx="610.2" cy="467.7" r="5.3"/>
<circle cx="610.7" cy="467.7" r="5.3"/>
<circle cx="611.2" cy="467.7" r="5.3"/>
<circle cx="611.7" cy="467.7" r="5.3"/>
<circle cx="612.2" cy="467.7" r="5.3"/>
<circle cx="612.7" cy="467.7" r="5.3"/>
<circle cx="613.2" cy="467.7" r="5.3"/>
<circle cx="613.7" cy="467.7" r="5.3"/>
<circle cx="614.2" cy="467.7" r="5.3"/>
<circle cx="614.7" cy="467.7" r="5.3"/>
<circle cx="615.2" cy="467.7" r="5.3"/>
<circle cx="615.7" cy="467.7" r="5.3"/>
<circle cx="616.2" cy="467.7" r="5.3"/>
<circle cx="616.7" cy="467.7" r="5.3"/>
<circle cx="617.2" cy="467.7" r="5.3"/>
<circle cx="617.7" cy="467.7" r="5.3"/>
<circle cx="618.2" cy="467.7" r="5.3"/>
<circle cx="618.7" cy="467.7" r="5.3"/>
<circle cx="619.2" cy="467.7" r="5.3"/>
<circle cx="619.7" cy="467.7" r="5.3"/>
<circle cx="620.2" cy="467.7" r="5.3"/>
<circle cx="620.7" cy="467.7" r="5.3"/>
<circle cx="621.2" cy="467.7" r="5.3"/>
<circle cx="621.7" cy="467.7" r="5.3"/>
<circle cx="622.2" cy="467.7" r="5.3"/>
<circle cx="622.7" cy="467.7" r="5.3"/>
<circle cx="623.2" cy="467.7" r="5.3"/>
<circle cx="623.7" cy="467.7" r="5.3"/>
<circle cx="624.2" cy="467.7" r="5.3"/>
<circle cx="624.7" cy="467.7" r="5.3"/>
<circle cx="625.2" cy="467.7" r="5.3"/>
<circle cx="625.7" cy="467.7" r="5.3"/>
<circle cx="626.2" cy="467.7" r="5.3"/>
<circle cx="626.7" cy="467.7" r="5.3"/>
<circle cx="627.2" cy="467.7" r="5.3"/>
<circle cx="627.7" cy="467.7" r="5.3"/>
<circle cx="628.2" cy="467.7" r="5.3"/>
<circle cx="628.7" cy="467.7" r="5.3"/>
<circle cx="629.2" cy="467.7" r="5.3"/>
<circle cx="629.7" cy="467.7" r="5.3"/>
<circle cx="630.2" cy="467.7" r="5.3"/>
<circle cx="630.7" cy="467.7" r="5.3"/>
<circle cx="631.2" cy="467.7" r="5.3"/>
<circle cx="631.7" cy="467.7" r="5.3"/>
<circle cx="632.2" cy="467.7" r="5.3"/>
<circle cx="632.7" cy="467.7" r="5.3"/>
<circle cx="633.2" cy="467.7" r="5.3"/>
<circle cx="633.7" cy="467.7" r="5.3"/>
<circle cx="634.2" cy="467.7" r="5.3"/>
<circle cx="634.7" cy="467.7" r="5.3"/>
<circle cx="635.2" cy="467.7" r="5.3"/>
<circle cx="635.7" cy="467.7" r="5.3"/>
<circle cx="636.2" cy="467.7" r="5.3"/>
<circle cx="636.7" cy="467.7" r="5.3"/>
<circle cx="637.2" cy="467.7" r="5.3"/>
<circle cx="637.7" cy="467.7" r="5.3"/>
<circle cx="638.2" cy="467.7" r="5.3"/>
<circle cx="638.7" cy="467.7" r="5.3"/>
<circle cx="639.2" cy="467.7" r="5.3"/>
<circle cx="639.7" cy="467.7" r="5.3"/>
<circle cx="640.2" cy="467.7" r="5.3"/>
<circle cx="640.7" cy="467.7" r="5.3"/>
<circle cx="641.2" cy="467.7" r="5.3"/>
<circle cx="641.7" cy="467.7" r="5.3"/>
<circle cx="642.2" cy="467.7" r="5.3"/>
<circle cx="642.7" cy="467.7" r="5.3"/>
<circle cx="643.2" cy="467.7" r="5.3"/>
<circle cx="643.7" cy="467.7" r="5.3"/>
<circle cx="644.2" cy="467.7" r="5.3"/>
<circle cx="644.7" cy="467.7" r="5.3"/>
<circle cx="645.2" cy="467.7" r="5.3"/>
<circle cx="645.7" cy="467.7" r="5.3"/>
<circle cx="646.2" cy="467.7" r="5.3"/>
<circle cx="646.7" cy="467.7" r="5.3"/>
<circle cx="647.2" cy="467.7" r="5.3"/>
<circle cx="647.7" cy="467.7" r="5.3"/>
<circle cx="648.2" cy="467.7" r="5.3"/>
<circle cx="648.7" cy="467.7" r="5.3"/>
<circle cx="649.2" cy="467.7" r="5.3"/>
<circle cx="649.7" cy="467.7" r="5.3"/>
<circle cx="650.2" cy="467.7" r="5.3"/>
<circle cx="650.7" cy="467.7" r="5.3"/>
<circle cx="651.2" cy="467.7" r="5.3"/>
<circle cx="651.7" cy="467.7" r="5.3"/>
<circle cx="652.2" cy="467.7" r="5.3"/>
<circle cx="652.7" cy="467.7" r="5.3"/>
<circle cx="653.2" cy="467.7" r="5.3"/>
<circle cx="653.7" cy="467.7" r="5.3"/>
<circle cx="654.2" cy="467.7" r="5.3"/>
<circle cx="654.7" cy="467.7" r="5.3"/>
<circle cx="655.2" cy="467.7" r="5.3"/>
<circle cx="655.7" cy="467.7" r="5.3"/>
<circle cx="656.2" cy="467.7" r="5.3"/>
<circle cx="656.7" cy="467.7" r="5.3"/>
<circle cx="657.2" cy="467.7" r="5.3"/>
<circle cx="657.7" cy="467.7" r="5.3"/>
<circle cx="658.2" cy="467.7" r="5.3"/>
<circle cx="658.7" cy="467.7" r="5.3"/>
<circle cx="659.2" cy="467.7" r="5.3"/>
<circle cx="659.7" cy="467.7" r="5.3"/>
<circle cx="660.2" cy="467.7" r="5.3"/>
<circle cx="660.7" cy="467.7" r="5.3"/>
<circle cx="661.2" cy="467.7" r="5.3"/>
<circle cx="661.7" cy="467.7" r="5.3"/>
<circle cx="662.2" cy="467.7" r="5.3"/>
<circle cx="662.7" cy="467.7" r="5.3"/>
<circle cx="663.2" cy="467.7" r="5.3"/>
<circle cx="663.7" cy="467.7" r="5.3"/>
<circle cx="664.2" cy="467.7" r="5.3"/>
<circle cx="664.7" cy="467.7" r="5.3"/>
<circle cx="665.2" cy="467.7" r="5.3"/>
<circle cx="665.7" cy="467.7" r="5.3"/>
<circle cx="666.2" cy="467.7" r="5.3"/>
<circle cx="666.7" cy="467.7" r="5.3"/>
<circle cx="667.2" cy="467.7" r="5.3"/>
<circle cx="667.7" cy="467.7" r="5.3"/>
<circle cx="668.2" cy="467.7" r="5.3"/>
<circle cx="668.7" cy="467.7" r="5.3"/>
<circle cx="669.2" cy="467.7" r="5.3"/>
<circle cx="669.7" cy="467.7" r="5.3"/>
<circle cx="670.2" cy="467.7" r="5.3"/>
<circle cx="670.7" cy="467.7" r="5.3"/>
<circle cx="671.2" cy="467.7" r="5.3"/>
<circle cx="671.7" cy="467.7" r="5.3"/>
<circle cx="672.2" cy="467.7" r="5.3"/>
<circle cx="672.7" cy="467.7" r="5.3"/>
<circle cx="673.2" cy="467.7" r="5.3"/>
<circle cx="673.7" cy="467.7" r="5.3"/>
<circle cx="674.2" cy="467.7" r="5.3"/>
<circle cx="674.7" cy="467.7" r="5.3"/>
<circle cx="675.2" cy="467.7" r="5.3"/>
<circle cx="675.7" cy="467.7" r="5.3"/>
<circle cx="676.2" cy="467.7" r="5.3"/>
<circle cx="676.7" cy="467.7" r="5.3"/>
<circle cx="677.2" cy="467.7" r="5.3"/>
<circle cx="677.7" cy="467.7" r="5.3"/>
<circle cx="678.2" cy="467.7" r="5.3"/>
<circle cx="678.7" cy="467.7" r="5.3"/>
<circle cx="679.2" cy="467.7" r="5.3"/>
<circle cx="679.7" cy="467.7" r="5.3"/>
<circle cx="680.2" cy="467.7" r="5.3"/>
<circle cx="680.4" cy="467.7" r="5.3"/>
<circle cx="706.4" cy="77.4" r="5.3"/>
</g>
<path d="M144.75 31.60H741.70V467.75H144.75Z" fill="none" stroke="#000" stroke-width="1.33" stroke-linejoin="miter"/>
<text transform="translate(128.60 477.05) scale(0.9570 1)" font-size="27.50" text-anchor="end">0</text>
<text transform="translate(128.60 404.34) scale(0.9570 1)" font-size="27.50" text-anchor="end">0.005</text>
<text transform="translate(128.60 331.63) scale(0.9570 1)" font-size="27.50" text-anchor="end">0.01</text>
<text transform="translate(128.60 258.93) scale(0.9570 1)" font-size="27.50" text-anchor="end">0.015</text>
<text transform="translate(128.60 186.22) scale(0.9570 1)" font-size="27.50" text-anchor="end">0.02</text>
<text transform="translate(128.60 113.51) scale(0.9570 1)" font-size="27.50" text-anchor="end">0.025</text>
<text transform="translate(128.60 40.80) scale(0.9570 1)" font-size="27.50" text-anchor="end">0.03</text>
<text transform="translate(144.95 505.40) scale(0.9570 1)" font-size="27.50" text-anchor="middle">10<tspan font-size="22.30" dy="-12.9">0</tspan></text>
<text transform="translate(219.59 505.40) scale(0.9570 1)" font-size="27.50" text-anchor="middle">10<tspan font-size="22.30" dy="-12.9">1</tspan></text>
<text transform="translate(294.22 505.40) scale(0.9570 1)" font-size="27.50" text-anchor="middle">10<tspan font-size="22.30" dy="-12.9">2</tspan></text>
<text transform="translate(368.86 505.40) scale(0.9570 1)" font-size="27.50" text-anchor="middle">10<tspan font-size="22.30" dy="-12.9">3</tspan></text>
<text transform="translate(443.50 505.40) scale(0.9570 1)" font-size="27.50" text-anchor="middle">10<tspan font-size="22.30" dy="-12.9">4</tspan></text>
<text transform="translate(518.14 505.40) scale(0.9570 1)" font-size="27.50" text-anchor="middle">10<tspan font-size="22.30" dy="-12.9">5</tspan></text>
<text transform="translate(592.78 505.40) scale(0.9570 1)" font-size="27.50" text-anchor="middle">10<tspan font-size="22.30" dy="-12.9">6</tspan></text>
<text transform="translate(667.41 505.40) scale(0.9570 1)" font-size="27.50" text-anchor="middle">10<tspan font-size="22.30" dy="-12.9">7</tspan></text>
<text transform="translate(742.05 505.40) scale(0.9570 1)" font-size="27.50" text-anchor="middle">10<tspan font-size="22.30" dy="-12.9">8</tspan></text>
<text transform="translate(443.00 542.10) scale(0.9570 1)" font-size="27.50" text-anchor="middle">age</text>
<text transform="translate(30.1 249.0) rotate(-90) scale(0.9570 1)" font-size="27.50" text-anchor="middle">PDF</text>
<text x="196.3" y="24.5" font-size="22.40" textLength="47.2" lengthAdjust="spacingAndGlyphs">6sec</text>
<text x="347.1" y="24.3" font-size="22.40" textLength="69.9" lengthAdjust="spacingAndGlyphs">10mins</text>
<text transform="translate(687.20 60.90) scale(0.9570 1)" font-size="27.50" text-anchor="end">Period I</text>
<text transform="translate(687.20 86.90) scale(0.9570 1)" font-size="27.50" text-anchor="end">Period II</text>
</svg></body></html>
